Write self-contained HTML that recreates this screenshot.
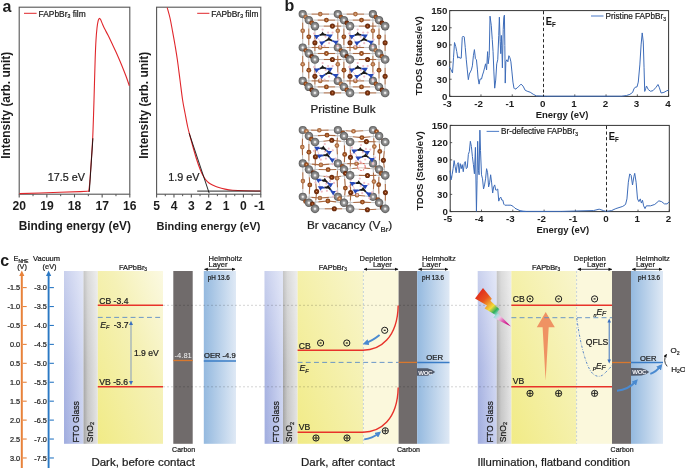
<!DOCTYPE html>
<html><head><meta charset="utf-8"><style>
html,body{margin:0;padding:0;background:#fff;}
body{width:685px;height:468px;overflow:hidden;}
svg{display:block;font-family:"Liberation Sans", sans-serif;will-change:transform;}
text[fill="#1c1c1c"]:not([font-weight="bold"]){stroke:#1c1c1c;stroke-width:0.22px;}
</style></head><body>
<svg width="685" height="468" viewBox="0 0 685 468">
<rect width="685" height="468" fill="#fff"/>
<text x="2.5" y="11.6" font-size="16" text-anchor="start" font-weight="bold" fill="#1c1c1c" >a</text>
<rect x="19.2" y="7.2" width="110.60000000000001" height="187.0" fill="none" stroke="#555" stroke-width="1.1"/>
<line x1="19.20" y1="194.20" x2="19.20" y2="197.40" stroke="#555" stroke-width="1.1" />
<text x="19.2" y="210.4" font-size="12.1" text-anchor="middle" font-weight="bold" fill="#1c1c1c" >20</text>
<line x1="33.02" y1="194.20" x2="33.02" y2="196.20" stroke="#555" stroke-width="1" />
<line x1="46.85" y1="194.20" x2="46.85" y2="197.40" stroke="#555" stroke-width="1.1" />
<text x="46.9" y="210.4" font-size="12.1" text-anchor="middle" font-weight="bold" fill="#1c1c1c" >19</text>
<line x1="60.68" y1="194.20" x2="60.68" y2="196.20" stroke="#555" stroke-width="1" />
<line x1="74.50" y1="194.20" x2="74.50" y2="197.40" stroke="#555" stroke-width="1.1" />
<text x="74.5" y="210.4" font-size="12.1" text-anchor="middle" font-weight="bold" fill="#1c1c1c" >18</text>
<line x1="88.33" y1="194.20" x2="88.33" y2="196.20" stroke="#555" stroke-width="1" />
<line x1="102.15" y1="194.20" x2="102.15" y2="197.40" stroke="#555" stroke-width="1.1" />
<text x="102.2" y="210.4" font-size="12.1" text-anchor="middle" font-weight="bold" fill="#1c1c1c" >17</text>
<line x1="115.98" y1="194.20" x2="115.98" y2="196.20" stroke="#555" stroke-width="1" />
<line x1="129.80" y1="194.20" x2="129.80" y2="197.40" stroke="#555" stroke-width="1.1" />
<text x="129.8" y="210.4" font-size="12.1" text-anchor="middle" font-weight="bold" fill="#1c1c1c" >16</text>
<polyline points="19.50,193.60 40.00,193.00 60.00,192.30 80.00,191.60 87.60,191.20" fill="none" stroke="#e0262b" stroke-width="1.1" stroke-linejoin="round" />
<path d="M87.60,191.20 C87.80,191.10 88.43,192.13 88.80,190.60 C89.17,189.07 89.40,186.77 89.80,182.00 C90.20,177.23 90.72,169.33 91.20,162.00 C91.68,154.67 92.28,146.67 92.70,138.00 C93.12,129.33 93.40,119.33 93.70,110.00 C94.00,100.67 94.25,90.67 94.50,82.00 C94.75,73.33 94.95,65.00 95.20,58.00 C95.45,51.00 95.70,45.00 96.00,40.00 C96.30,35.00 96.63,31.23 97.00,28.00 C97.37,24.77 97.80,22.20 98.20,20.60 C98.60,19.00 99.00,18.57 99.40,18.40 C99.80,18.23 100.13,18.77 100.60,19.60 C101.07,20.43 101.55,21.92 102.20,23.40 C102.85,24.88 103.50,26.47 104.50,28.50 C105.50,30.53 106.95,33.10 108.20,35.60 C109.45,38.10 110.70,40.77 112.00,43.50 C113.30,46.23 114.77,49.28 116.00,52.00 C117.23,54.72 118.23,57.05 119.40,59.80 C120.57,62.55 121.82,65.55 123.00,68.50 C124.18,71.45 125.45,74.63 126.50,77.50 C127.55,80.37 128.83,84.33 129.30,85.70" fill="none" stroke="#e0262b" stroke-width="1.1" stroke-linejoin="round" />
<line x1="89.30" y1="191.90" x2="92.90" y2="138.30" stroke="#111" stroke-width="0.9" />
<text x="47.8" y="180.8" font-size="10.8" text-anchor="start" font-weight="normal" fill="#1c1c1c" >17.5 eV</text>
<line x1="24.00" y1="13.30" x2="36.60" y2="13.30" stroke="#e0262b" stroke-width="1" />
<text x="38.6" y="16.5" font-size="8.4" fill="#1c1c1c">FAPbBr<tspan font-size="5.2" dy="1.8">3</tspan><tspan dy="-1.8"> film</tspan></text>
<text transform="translate(10.4,105.3) rotate(-90)" font-size="11.9" font-weight="bold" text-anchor="middle" fill="#1c1c1c">Intensity (arb. unit)</text>
<text x="74.8" y="230.4" font-size="11.9" text-anchor="middle" font-weight="bold" fill="#1c1c1c" >Binding energy (eV)</text>
<rect x="156.6" y="7.2" width="104.20000000000002" height="187.0" fill="none" stroke="#555" stroke-width="1.1"/>
<line x1="156.60" y1="194.20" x2="156.60" y2="197.40" stroke="#555" stroke-width="1.1" />
<text x="156.6" y="210.4" font-size="12.1" text-anchor="middle" font-weight="bold" fill="#1c1c1c" >5</text>
<line x1="165.28" y1="194.20" x2="165.28" y2="196.20" stroke="#555" stroke-width="1" />
<line x1="173.97" y1="194.20" x2="173.97" y2="197.40" stroke="#555" stroke-width="1.1" />
<text x="174.0" y="210.4" font-size="12.1" text-anchor="middle" font-weight="bold" fill="#1c1c1c" >4</text>
<line x1="182.65" y1="194.20" x2="182.65" y2="196.20" stroke="#555" stroke-width="1" />
<line x1="191.33" y1="194.20" x2="191.33" y2="197.40" stroke="#555" stroke-width="1.1" />
<text x="191.3" y="210.4" font-size="12.1" text-anchor="middle" font-weight="bold" fill="#1c1c1c" >3</text>
<line x1="200.02" y1="194.20" x2="200.02" y2="196.20" stroke="#555" stroke-width="1" />
<line x1="208.70" y1="194.20" x2="208.70" y2="197.40" stroke="#555" stroke-width="1.1" />
<text x="208.7" y="210.4" font-size="12.1" text-anchor="middle" font-weight="bold" fill="#1c1c1c" >2</text>
<line x1="217.38" y1="194.20" x2="217.38" y2="196.20" stroke="#555" stroke-width="1" />
<line x1="226.07" y1="194.20" x2="226.07" y2="197.40" stroke="#555" stroke-width="1.1" />
<text x="226.1" y="210.4" font-size="12.1" text-anchor="middle" font-weight="bold" fill="#1c1c1c" >1</text>
<line x1="234.75" y1="194.20" x2="234.75" y2="196.20" stroke="#555" stroke-width="1" />
<line x1="243.43" y1="194.20" x2="243.43" y2="197.40" stroke="#555" stroke-width="1.1" />
<text x="243.4" y="210.4" font-size="12.1" text-anchor="middle" font-weight="bold" fill="#1c1c1c" >0</text>
<line x1="252.12" y1="194.20" x2="252.12" y2="196.20" stroke="#555" stroke-width="1" />
<line x1="260.80" y1="194.20" x2="260.80" y2="197.40" stroke="#555" stroke-width="1.1" />
<text x="259.3" y="210.4" font-size="12.1" text-anchor="middle" font-weight="bold" fill="#1c1c1c" >-1</text>
<path d="M167.20,7.60 C167.67,9.33 169.15,14.27 170.00,18.00 C170.85,21.73 171.47,25.50 172.30,30.00 C173.13,34.50 174.15,40.00 175.00,45.00 C175.85,50.00 176.57,54.17 177.40,60.00 C178.23,65.83 179.13,73.33 180.00,80.00 C180.87,86.67 181.77,94.50 182.60,100.00 C183.43,105.50 184.18,108.67 185.00,113.00 C185.82,117.33 186.67,122.17 187.50,126.00 C188.33,129.83 189.08,132.50 190.00,136.00 C190.92,139.50 191.92,143.17 193.00,147.00 C194.08,150.83 195.33,155.33 196.50,159.00 C197.67,162.67 198.92,166.23 200.00,169.00 C201.08,171.77 202.00,173.73 203.00,175.60 C204.00,177.47 205.00,178.97 206.00,180.20 C207.00,181.43 207.83,182.17 209.00,183.00 C210.17,183.83 211.50,184.48 213.00,185.20 C214.50,185.92 216.00,186.65 218.00,187.30 C220.00,187.95 222.57,188.62 225.00,189.10 C227.43,189.58 229.27,189.92 232.60,190.20 C235.93,190.48 240.35,190.67 245.00,190.80 C249.65,190.93 257.92,190.97 260.50,191.00" fill="none" stroke="#e0262b" stroke-width="1.1" stroke-linejoin="round" />
<line x1="189.20" y1="133.30" x2="209.20" y2="193.20" stroke="#111" stroke-width="0.9" />
<line x1="197.20" y1="191.10" x2="260.50" y2="191.10" stroke="#111" stroke-width="0.9" />
<text x="168.3" y="181.2" font-size="10.8" text-anchor="start" font-weight="normal" fill="#1c1c1c" >1.9 eV</text>
<line x1="197.20" y1="13.30" x2="209.40" y2="13.30" stroke="#e0262b" stroke-width="1" />
<text x="211.3" y="16.5" font-size="8.4" fill="#1c1c1c">FAPbBr<tspan font-size="5.2" dy="1.8">3</tspan><tspan dy="-1.8"> film</tspan></text>
<text transform="translate(147.9,105.3) rotate(-90)" font-size="11.9" font-weight="bold" text-anchor="middle" fill="#1c1c1c">Intensity (arb. unit)</text>
<text x="208.5" y="230.4" font-size="11.0" text-anchor="middle" font-weight="bold" fill="#1c1c1c" >Binding energy (eV)</text>
<defs>
<radialGradient id="gpb" cx="0.5" cy="0.5" r="0.5"><stop offset="0" stop-color="#ffffff"/><stop offset="0.16" stop-color="#e6e6e6"/><stop offset="0.38" stop-color="#9c9c9c"/><stop offset="0.72" stop-color="#7a7a7a"/><stop offset="1" stop-color="#575757"/></radialGradient>
<radialGradient id="gbr0" cx="0.5" cy="0.5" r="0.5"><stop offset="0" stop-color="#f8d4b0"/><stop offset="0.3" stop-color="#c88a5c"/><stop offset="1" stop-color="#9a5a30"/></radialGradient><radialGradient id="gbr1" cx="0.5" cy="0.5" r="0.5"><stop offset="0" stop-color="#f4c090"/><stop offset="0.3" stop-color="#b0622c"/><stop offset="1" stop-color="#7c3812"/></radialGradient><radialGradient id="gbr2" cx="0.5" cy="0.5" r="0.5"><stop offset="0" stop-color="#e8a070"/><stop offset="0.3" stop-color="#8a3c14"/><stop offset="1" stop-color="#5e2408"/></radialGradient>
</defs>
<text x="284.6" y="11.4" font-size="16" text-anchor="start" font-weight="bold" fill="#1c1c1c" >b</text>
<line x1="302.7" y1="14.1" x2="311.5" y2="14.1" stroke="#c4c4c4" stroke-width="1.1"/>
<line x1="311.5" y1="14.1" x2="320.2" y2="14.1" stroke="#a86a44" stroke-width="1.1"/>
<line x1="337.8" y1="14.1" x2="329.0" y2="14.1" stroke="#c4c4c4" stroke-width="1.1"/>
<line x1="329.0" y1="14.1" x2="320.2" y2="14.1" stroke="#a86a44" stroke-width="1.1"/>
<line x1="302.7" y1="14.1" x2="302.7" y2="22.4" stroke="#c4c4c4" stroke-width="1.1"/>
<line x1="302.7" y1="22.4" x2="302.7" y2="30.8" stroke="#a86a44" stroke-width="1.1"/>
<line x1="302.7" y1="47.5" x2="302.7" y2="39.1" stroke="#c4c4c4" stroke-width="1.1"/>
<line x1="302.7" y1="39.1" x2="302.7" y2="30.8" stroke="#a86a44" stroke-width="1.1"/>
<line x1="302.7" y1="14.1" x2="304.2" y2="15.6" stroke="#c4c4c4" stroke-width="1.1"/>
<line x1="304.2" y1="15.6" x2="305.8" y2="17.1" stroke="#a86a44" stroke-width="1.1"/>
<line x1="308.8" y1="20.1" x2="307.3" y2="18.6" stroke="#c4c4c4" stroke-width="1.1"/>
<line x1="307.3" y1="18.6" x2="305.8" y2="17.1" stroke="#a86a44" stroke-width="1.1"/>
<line x1="337.8" y1="14.1" x2="346.6" y2="14.1" stroke="#c4c4c4" stroke-width="1.1"/>
<line x1="346.6" y1="14.1" x2="355.4" y2="14.1" stroke="#a86a44" stroke-width="1.1"/>
<line x1="372.9" y1="14.1" x2="364.1" y2="14.1" stroke="#c4c4c4" stroke-width="1.1"/>
<line x1="364.1" y1="14.1" x2="355.4" y2="14.1" stroke="#a86a44" stroke-width="1.1"/>
<line x1="337.8" y1="14.1" x2="337.8" y2="22.4" stroke="#c4c4c4" stroke-width="1.1"/>
<line x1="337.8" y1="22.4" x2="337.8" y2="30.8" stroke="#a86a44" stroke-width="1.1"/>
<line x1="337.8" y1="47.5" x2="337.8" y2="39.1" stroke="#c4c4c4" stroke-width="1.1"/>
<line x1="337.8" y1="39.1" x2="337.8" y2="30.8" stroke="#a86a44" stroke-width="1.1"/>
<line x1="337.8" y1="14.1" x2="339.3" y2="15.6" stroke="#c4c4c4" stroke-width="1.1"/>
<line x1="339.3" y1="15.6" x2="340.9" y2="17.1" stroke="#a86a44" stroke-width="1.1"/>
<line x1="343.9" y1="20.1" x2="342.4" y2="18.6" stroke="#c4c4c4" stroke-width="1.1"/>
<line x1="342.4" y1="18.6" x2="340.9" y2="17.1" stroke="#a86a44" stroke-width="1.1"/>
<line x1="372.9" y1="14.1" x2="372.9" y2="22.4" stroke="#c4c4c4" stroke-width="1.1"/>
<line x1="372.9" y1="22.4" x2="372.9" y2="30.8" stroke="#a86a44" stroke-width="1.1"/>
<line x1="372.9" y1="47.5" x2="372.9" y2="39.1" stroke="#c4c4c4" stroke-width="1.1"/>
<line x1="372.9" y1="39.1" x2="372.9" y2="30.8" stroke="#a86a44" stroke-width="1.1"/>
<line x1="372.9" y1="14.1" x2="374.4" y2="15.6" stroke="#c4c4c4" stroke-width="1.1"/>
<line x1="374.4" y1="15.6" x2="375.9" y2="17.1" stroke="#a86a44" stroke-width="1.1"/>
<line x1="379.0" y1="20.1" x2="377.5" y2="18.6" stroke="#c4c4c4" stroke-width="1.1"/>
<line x1="377.5" y1="18.6" x2="375.9" y2="17.1" stroke="#a86a44" stroke-width="1.1"/>
<line x1="302.7" y1="47.5" x2="311.5" y2="47.5" stroke="#c4c4c4" stroke-width="1.1"/>
<line x1="311.5" y1="47.5" x2="320.2" y2="47.5" stroke="#a86a44" stroke-width="1.1"/>
<line x1="337.8" y1="47.5" x2="329.0" y2="47.5" stroke="#c4c4c4" stroke-width="1.1"/>
<line x1="329.0" y1="47.5" x2="320.2" y2="47.5" stroke="#a86a44" stroke-width="1.1"/>
<line x1="302.7" y1="47.5" x2="302.7" y2="55.8" stroke="#c4c4c4" stroke-width="1.1"/>
<line x1="302.7" y1="55.8" x2="302.7" y2="64.2" stroke="#a86a44" stroke-width="1.1"/>
<line x1="302.7" y1="80.9" x2="302.7" y2="72.5" stroke="#c4c4c4" stroke-width="1.1"/>
<line x1="302.7" y1="72.5" x2="302.7" y2="64.2" stroke="#a86a44" stroke-width="1.1"/>
<line x1="302.7" y1="47.5" x2="304.2" y2="49.0" stroke="#c4c4c4" stroke-width="1.1"/>
<line x1="304.2" y1="49.0" x2="305.8" y2="50.5" stroke="#a86a44" stroke-width="1.1"/>
<line x1="308.8" y1="53.5" x2="307.3" y2="52.0" stroke="#c4c4c4" stroke-width="1.1"/>
<line x1="307.3" y1="52.0" x2="305.8" y2="50.5" stroke="#a86a44" stroke-width="1.1"/>
<line x1="337.8" y1="47.5" x2="346.6" y2="47.5" stroke="#c4c4c4" stroke-width="1.1"/>
<line x1="346.6" y1="47.5" x2="355.4" y2="47.5" stroke="#a86a44" stroke-width="1.1"/>
<line x1="372.9" y1="47.5" x2="364.1" y2="47.5" stroke="#c4c4c4" stroke-width="1.1"/>
<line x1="364.1" y1="47.5" x2="355.4" y2="47.5" stroke="#a86a44" stroke-width="1.1"/>
<line x1="337.8" y1="47.5" x2="337.8" y2="55.8" stroke="#c4c4c4" stroke-width="1.1"/>
<line x1="337.8" y1="55.8" x2="337.8" y2="64.2" stroke="#a86a44" stroke-width="1.1"/>
<line x1="337.8" y1="80.9" x2="337.8" y2="72.5" stroke="#c4c4c4" stroke-width="1.1"/>
<line x1="337.8" y1="72.5" x2="337.8" y2="64.2" stroke="#a86a44" stroke-width="1.1"/>
<line x1="337.8" y1="47.5" x2="339.3" y2="49.0" stroke="#c4c4c4" stroke-width="1.1"/>
<line x1="339.3" y1="49.0" x2="340.9" y2="50.5" stroke="#a86a44" stroke-width="1.1"/>
<line x1="343.9" y1="53.5" x2="342.4" y2="52.0" stroke="#c4c4c4" stroke-width="1.1"/>
<line x1="342.4" y1="52.0" x2="340.9" y2="50.5" stroke="#a86a44" stroke-width="1.1"/>
<line x1="372.9" y1="47.5" x2="372.9" y2="55.8" stroke="#c4c4c4" stroke-width="1.1"/>
<line x1="372.9" y1="55.8" x2="372.9" y2="64.2" stroke="#a86a44" stroke-width="1.1"/>
<line x1="372.9" y1="80.9" x2="372.9" y2="72.5" stroke="#c4c4c4" stroke-width="1.1"/>
<line x1="372.9" y1="72.5" x2="372.9" y2="64.2" stroke="#a86a44" stroke-width="1.1"/>
<line x1="372.9" y1="47.5" x2="374.4" y2="49.0" stroke="#c4c4c4" stroke-width="1.1"/>
<line x1="374.4" y1="49.0" x2="375.9" y2="50.5" stroke="#a86a44" stroke-width="1.1"/>
<line x1="379.0" y1="53.5" x2="377.5" y2="52.0" stroke="#c4c4c4" stroke-width="1.1"/>
<line x1="377.5" y1="52.0" x2="375.9" y2="50.5" stroke="#a86a44" stroke-width="1.1"/>
<line x1="302.7" y1="80.9" x2="311.5" y2="80.9" stroke="#c4c4c4" stroke-width="1.1"/>
<line x1="311.5" y1="80.9" x2="320.2" y2="80.9" stroke="#a86a44" stroke-width="1.1"/>
<line x1="337.8" y1="80.9" x2="329.0" y2="80.9" stroke="#c4c4c4" stroke-width="1.1"/>
<line x1="329.0" y1="80.9" x2="320.2" y2="80.9" stroke="#a86a44" stroke-width="1.1"/>
<line x1="302.7" y1="80.9" x2="304.2" y2="82.4" stroke="#c4c4c4" stroke-width="1.1"/>
<line x1="304.2" y1="82.4" x2="305.8" y2="83.9" stroke="#a86a44" stroke-width="1.1"/>
<line x1="308.8" y1="86.9" x2="307.3" y2="85.4" stroke="#c4c4c4" stroke-width="1.1"/>
<line x1="307.3" y1="85.4" x2="305.8" y2="83.9" stroke="#a86a44" stroke-width="1.1"/>
<line x1="337.8" y1="80.9" x2="346.6" y2="80.9" stroke="#c4c4c4" stroke-width="1.1"/>
<line x1="346.6" y1="80.9" x2="355.4" y2="80.9" stroke="#a86a44" stroke-width="1.1"/>
<line x1="372.9" y1="80.9" x2="364.1" y2="80.9" stroke="#c4c4c4" stroke-width="1.1"/>
<line x1="364.1" y1="80.9" x2="355.4" y2="80.9" stroke="#a86a44" stroke-width="1.1"/>
<line x1="337.8" y1="80.9" x2="339.3" y2="82.4" stroke="#c4c4c4" stroke-width="1.1"/>
<line x1="339.3" y1="82.4" x2="340.9" y2="83.9" stroke="#a86a44" stroke-width="1.1"/>
<line x1="343.9" y1="86.9" x2="342.4" y2="85.4" stroke="#c4c4c4" stroke-width="1.1"/>
<line x1="342.4" y1="85.4" x2="340.9" y2="83.9" stroke="#a86a44" stroke-width="1.1"/>
<line x1="372.9" y1="80.9" x2="374.4" y2="82.4" stroke="#c4c4c4" stroke-width="1.1"/>
<line x1="374.4" y1="82.4" x2="375.9" y2="83.9" stroke="#a86a44" stroke-width="1.1"/>
<line x1="379.0" y1="86.9" x2="377.5" y2="85.4" stroke="#c4c4c4" stroke-width="1.1"/>
<line x1="377.5" y1="85.4" x2="375.9" y2="83.9" stroke="#a86a44" stroke-width="1.1"/>
<line x1="308.8" y1="20.1" x2="317.6" y2="20.1" stroke="#c4c4c4" stroke-width="1.1"/>
<line x1="317.6" y1="20.1" x2="326.4" y2="20.1" stroke="#a86a44" stroke-width="1.1"/>
<line x1="343.9" y1="20.1" x2="335.1" y2="20.1" stroke="#c4c4c4" stroke-width="1.1"/>
<line x1="335.1" y1="20.1" x2="326.4" y2="20.1" stroke="#a86a44" stroke-width="1.1"/>
<line x1="308.8" y1="20.1" x2="308.8" y2="28.4" stroke="#c4c4c4" stroke-width="1.1"/>
<line x1="308.8" y1="28.4" x2="308.8" y2="36.8" stroke="#a86a44" stroke-width="1.1"/>
<line x1="308.8" y1="53.5" x2="308.8" y2="45.1" stroke="#c4c4c4" stroke-width="1.1"/>
<line x1="308.8" y1="45.1" x2="308.8" y2="36.8" stroke="#a86a44" stroke-width="1.1"/>
<line x1="308.8" y1="20.1" x2="310.3" y2="21.6" stroke="#c4c4c4" stroke-width="1.1"/>
<line x1="310.3" y1="21.6" x2="311.8" y2="23.1" stroke="#a86a44" stroke-width="1.1"/>
<line x1="314.9" y1="26.1" x2="313.4" y2="24.6" stroke="#c4c4c4" stroke-width="1.1"/>
<line x1="313.4" y1="24.6" x2="311.8" y2="23.1" stroke="#a86a44" stroke-width="1.1"/>
<line x1="343.9" y1="20.1" x2="352.7" y2="20.1" stroke="#c4c4c4" stroke-width="1.1"/>
<line x1="352.7" y1="20.1" x2="361.5" y2="20.1" stroke="#a86a44" stroke-width="1.1"/>
<line x1="379.0" y1="20.1" x2="370.2" y2="20.1" stroke="#c4c4c4" stroke-width="1.1"/>
<line x1="370.2" y1="20.1" x2="361.5" y2="20.1" stroke="#a86a44" stroke-width="1.1"/>
<line x1="343.9" y1="20.1" x2="343.9" y2="28.4" stroke="#c4c4c4" stroke-width="1.1"/>
<line x1="343.9" y1="28.4" x2="343.9" y2="36.8" stroke="#a86a44" stroke-width="1.1"/>
<line x1="343.9" y1="53.5" x2="343.9" y2="45.1" stroke="#c4c4c4" stroke-width="1.1"/>
<line x1="343.9" y1="45.1" x2="343.9" y2="36.8" stroke="#a86a44" stroke-width="1.1"/>
<line x1="343.9" y1="20.1" x2="345.4" y2="21.6" stroke="#c4c4c4" stroke-width="1.1"/>
<line x1="345.4" y1="21.6" x2="346.9" y2="23.1" stroke="#a86a44" stroke-width="1.1"/>
<line x1="350.0" y1="26.1" x2="348.5" y2="24.6" stroke="#c4c4c4" stroke-width="1.1"/>
<line x1="348.5" y1="24.6" x2="346.9" y2="23.1" stroke="#a86a44" stroke-width="1.1"/>
<line x1="379.0" y1="20.1" x2="379.0" y2="28.4" stroke="#c4c4c4" stroke-width="1.1"/>
<line x1="379.0" y1="28.4" x2="379.0" y2="36.8" stroke="#a86a44" stroke-width="1.1"/>
<line x1="379.0" y1="53.5" x2="379.0" y2="45.1" stroke="#c4c4c4" stroke-width="1.1"/>
<line x1="379.0" y1="45.1" x2="379.0" y2="36.8" stroke="#a86a44" stroke-width="1.1"/>
<line x1="379.0" y1="20.1" x2="380.5" y2="21.6" stroke="#c4c4c4" stroke-width="1.1"/>
<line x1="380.5" y1="21.6" x2="382.0" y2="23.1" stroke="#a86a44" stroke-width="1.1"/>
<line x1="385.1" y1="26.1" x2="383.6" y2="24.6" stroke="#c4c4c4" stroke-width="1.1"/>
<line x1="383.6" y1="24.6" x2="382.0" y2="23.1" stroke="#a86a44" stroke-width="1.1"/>
<line x1="308.8" y1="53.5" x2="317.6" y2="53.5" stroke="#c4c4c4" stroke-width="1.1"/>
<line x1="317.6" y1="53.5" x2="326.4" y2="53.5" stroke="#a86a44" stroke-width="1.1"/>
<line x1="343.9" y1="53.5" x2="335.1" y2="53.5" stroke="#c4c4c4" stroke-width="1.1"/>
<line x1="335.1" y1="53.5" x2="326.4" y2="53.5" stroke="#a86a44" stroke-width="1.1"/>
<line x1="308.8" y1="53.5" x2="308.8" y2="61.8" stroke="#c4c4c4" stroke-width="1.1"/>
<line x1="308.8" y1="61.8" x2="308.8" y2="70.2" stroke="#a86a44" stroke-width="1.1"/>
<line x1="308.8" y1="86.9" x2="308.8" y2="78.5" stroke="#c4c4c4" stroke-width="1.1"/>
<line x1="308.8" y1="78.5" x2="308.8" y2="70.2" stroke="#a86a44" stroke-width="1.1"/>
<line x1="308.8" y1="53.5" x2="310.3" y2="55.0" stroke="#c4c4c4" stroke-width="1.1"/>
<line x1="310.3" y1="55.0" x2="311.8" y2="56.5" stroke="#a86a44" stroke-width="1.1"/>
<line x1="314.9" y1="59.5" x2="313.4" y2="58.0" stroke="#c4c4c4" stroke-width="1.1"/>
<line x1="313.4" y1="58.0" x2="311.8" y2="56.5" stroke="#a86a44" stroke-width="1.1"/>
<line x1="343.9" y1="53.5" x2="352.7" y2="53.5" stroke="#c4c4c4" stroke-width="1.1"/>
<line x1="352.7" y1="53.5" x2="361.5" y2="53.5" stroke="#a86a44" stroke-width="1.1"/>
<line x1="379.0" y1="53.5" x2="370.2" y2="53.5" stroke="#c4c4c4" stroke-width="1.1"/>
<line x1="370.2" y1="53.5" x2="361.5" y2="53.5" stroke="#a86a44" stroke-width="1.1"/>
<line x1="343.9" y1="53.5" x2="343.9" y2="61.8" stroke="#c4c4c4" stroke-width="1.1"/>
<line x1="343.9" y1="61.8" x2="343.9" y2="70.2" stroke="#a86a44" stroke-width="1.1"/>
<line x1="343.9" y1="86.9" x2="343.9" y2="78.5" stroke="#c4c4c4" stroke-width="1.1"/>
<line x1="343.9" y1="78.5" x2="343.9" y2="70.2" stroke="#a86a44" stroke-width="1.1"/>
<line x1="343.9" y1="53.5" x2="345.4" y2="55.0" stroke="#c4c4c4" stroke-width="1.1"/>
<line x1="345.4" y1="55.0" x2="346.9" y2="56.5" stroke="#a86a44" stroke-width="1.1"/>
<line x1="350.0" y1="59.5" x2="348.5" y2="58.0" stroke="#c4c4c4" stroke-width="1.1"/>
<line x1="348.5" y1="58.0" x2="346.9" y2="56.5" stroke="#a86a44" stroke-width="1.1"/>
<line x1="379.0" y1="53.5" x2="379.0" y2="61.8" stroke="#c4c4c4" stroke-width="1.1"/>
<line x1="379.0" y1="61.8" x2="379.0" y2="70.2" stroke="#a86a44" stroke-width="1.1"/>
<line x1="379.0" y1="86.9" x2="379.0" y2="78.5" stroke="#c4c4c4" stroke-width="1.1"/>
<line x1="379.0" y1="78.5" x2="379.0" y2="70.2" stroke="#a86a44" stroke-width="1.1"/>
<line x1="379.0" y1="53.5" x2="380.5" y2="55.0" stroke="#c4c4c4" stroke-width="1.1"/>
<line x1="380.5" y1="55.0" x2="382.0" y2="56.5" stroke="#a86a44" stroke-width="1.1"/>
<line x1="385.1" y1="59.5" x2="383.6" y2="58.0" stroke="#c4c4c4" stroke-width="1.1"/>
<line x1="383.6" y1="58.0" x2="382.0" y2="56.5" stroke="#a86a44" stroke-width="1.1"/>
<line x1="308.8" y1="86.9" x2="317.6" y2="86.9" stroke="#c4c4c4" stroke-width="1.1"/>
<line x1="317.6" y1="86.9" x2="326.4" y2="86.9" stroke="#a86a44" stroke-width="1.1"/>
<line x1="343.9" y1="86.9" x2="335.1" y2="86.9" stroke="#c4c4c4" stroke-width="1.1"/>
<line x1="335.1" y1="86.9" x2="326.4" y2="86.9" stroke="#a86a44" stroke-width="1.1"/>
<line x1="308.8" y1="86.9" x2="310.3" y2="88.4" stroke="#c4c4c4" stroke-width="1.1"/>
<line x1="310.3" y1="88.4" x2="311.8" y2="89.9" stroke="#a86a44" stroke-width="1.1"/>
<line x1="314.9" y1="92.9" x2="313.4" y2="91.4" stroke="#c4c4c4" stroke-width="1.1"/>
<line x1="313.4" y1="91.4" x2="311.8" y2="89.9" stroke="#a86a44" stroke-width="1.1"/>
<line x1="343.9" y1="86.9" x2="352.7" y2="86.9" stroke="#c4c4c4" stroke-width="1.1"/>
<line x1="352.7" y1="86.9" x2="361.5" y2="86.9" stroke="#a86a44" stroke-width="1.1"/>
<line x1="379.0" y1="86.9" x2="370.2" y2="86.9" stroke="#c4c4c4" stroke-width="1.1"/>
<line x1="370.2" y1="86.9" x2="361.5" y2="86.9" stroke="#a86a44" stroke-width="1.1"/>
<line x1="343.9" y1="86.9" x2="345.4" y2="88.4" stroke="#c4c4c4" stroke-width="1.1"/>
<line x1="345.4" y1="88.4" x2="346.9" y2="89.9" stroke="#a86a44" stroke-width="1.1"/>
<line x1="350.0" y1="92.9" x2="348.5" y2="91.4" stroke="#c4c4c4" stroke-width="1.1"/>
<line x1="348.5" y1="91.4" x2="346.9" y2="89.9" stroke="#a86a44" stroke-width="1.1"/>
<line x1="379.0" y1="86.9" x2="380.5" y2="88.4" stroke="#c4c4c4" stroke-width="1.1"/>
<line x1="380.5" y1="88.4" x2="382.0" y2="89.9" stroke="#a86a44" stroke-width="1.1"/>
<line x1="385.1" y1="92.9" x2="383.6" y2="91.4" stroke="#c4c4c4" stroke-width="1.1"/>
<line x1="383.6" y1="91.4" x2="382.0" y2="89.9" stroke="#a86a44" stroke-width="1.1"/>
<line x1="314.9" y1="26.1" x2="323.7" y2="26.1" stroke="#c4c4c4" stroke-width="1.1"/>
<line x1="323.7" y1="26.1" x2="332.4" y2="26.1" stroke="#a86a44" stroke-width="1.1"/>
<line x1="350.0" y1="26.1" x2="341.2" y2="26.1" stroke="#c4c4c4" stroke-width="1.1"/>
<line x1="341.2" y1="26.1" x2="332.4" y2="26.1" stroke="#a86a44" stroke-width="1.1"/>
<line x1="314.9" y1="26.1" x2="314.9" y2="34.5" stroke="#c4c4c4" stroke-width="1.1"/>
<line x1="314.9" y1="34.5" x2="314.9" y2="42.8" stroke="#a86a44" stroke-width="1.1"/>
<line x1="314.9" y1="59.5" x2="314.9" y2="51.1" stroke="#c4c4c4" stroke-width="1.1"/>
<line x1="314.9" y1="51.1" x2="314.9" y2="42.8" stroke="#a86a44" stroke-width="1.1"/>
<line x1="350.0" y1="26.1" x2="358.8" y2="26.1" stroke="#c4c4c4" stroke-width="1.1"/>
<line x1="358.8" y1="26.1" x2="367.6" y2="26.1" stroke="#a86a44" stroke-width="1.1"/>
<line x1="385.1" y1="26.1" x2="376.3" y2="26.1" stroke="#c4c4c4" stroke-width="1.1"/>
<line x1="376.3" y1="26.1" x2="367.6" y2="26.1" stroke="#a86a44" stroke-width="1.1"/>
<line x1="350.0" y1="26.1" x2="350.0" y2="34.5" stroke="#c4c4c4" stroke-width="1.1"/>
<line x1="350.0" y1="34.5" x2="350.0" y2="42.8" stroke="#a86a44" stroke-width="1.1"/>
<line x1="350.0" y1="59.5" x2="350.0" y2="51.1" stroke="#c4c4c4" stroke-width="1.1"/>
<line x1="350.0" y1="51.1" x2="350.0" y2="42.8" stroke="#a86a44" stroke-width="1.1"/>
<line x1="385.1" y1="26.1" x2="385.1" y2="34.5" stroke="#c4c4c4" stroke-width="1.1"/>
<line x1="385.1" y1="34.5" x2="385.1" y2="42.8" stroke="#a86a44" stroke-width="1.1"/>
<line x1="385.1" y1="59.5" x2="385.1" y2="51.1" stroke="#c4c4c4" stroke-width="1.1"/>
<line x1="385.1" y1="51.1" x2="385.1" y2="42.8" stroke="#a86a44" stroke-width="1.1"/>
<line x1="314.9" y1="59.5" x2="323.7" y2="59.5" stroke="#c4c4c4" stroke-width="1.1"/>
<line x1="323.7" y1="59.5" x2="332.4" y2="59.5" stroke="#a86a44" stroke-width="1.1"/>
<line x1="350.0" y1="59.5" x2="341.2" y2="59.5" stroke="#c4c4c4" stroke-width="1.1"/>
<line x1="341.2" y1="59.5" x2="332.4" y2="59.5" stroke="#a86a44" stroke-width="1.1"/>
<line x1="314.9" y1="59.5" x2="314.9" y2="67.8" stroke="#c4c4c4" stroke-width="1.1"/>
<line x1="314.9" y1="67.8" x2="314.9" y2="76.2" stroke="#a86a44" stroke-width="1.1"/>
<line x1="314.9" y1="92.9" x2="314.9" y2="84.5" stroke="#c4c4c4" stroke-width="1.1"/>
<line x1="314.9" y1="84.5" x2="314.9" y2="76.2" stroke="#a86a44" stroke-width="1.1"/>
<line x1="350.0" y1="59.5" x2="358.8" y2="59.5" stroke="#c4c4c4" stroke-width="1.1"/>
<line x1="358.8" y1="59.5" x2="367.6" y2="59.5" stroke="#a86a44" stroke-width="1.1"/>
<line x1="385.1" y1="59.5" x2="376.3" y2="59.5" stroke="#c4c4c4" stroke-width="1.1"/>
<line x1="376.3" y1="59.5" x2="367.6" y2="59.5" stroke="#a86a44" stroke-width="1.1"/>
<line x1="350.0" y1="59.5" x2="350.0" y2="67.8" stroke="#c4c4c4" stroke-width="1.1"/>
<line x1="350.0" y1="67.8" x2="350.0" y2="76.2" stroke="#a86a44" stroke-width="1.1"/>
<line x1="350.0" y1="92.9" x2="350.0" y2="84.5" stroke="#c4c4c4" stroke-width="1.1"/>
<line x1="350.0" y1="84.5" x2="350.0" y2="76.2" stroke="#a86a44" stroke-width="1.1"/>
<line x1="385.1" y1="59.5" x2="385.1" y2="67.8" stroke="#c4c4c4" stroke-width="1.1"/>
<line x1="385.1" y1="67.8" x2="385.1" y2="76.2" stroke="#a86a44" stroke-width="1.1"/>
<line x1="385.1" y1="92.9" x2="385.1" y2="84.5" stroke="#c4c4c4" stroke-width="1.1"/>
<line x1="385.1" y1="84.5" x2="385.1" y2="76.2" stroke="#a86a44" stroke-width="1.1"/>
<line x1="314.9" y1="92.9" x2="323.7" y2="92.9" stroke="#c4c4c4" stroke-width="1.1"/>
<line x1="323.7" y1="92.9" x2="332.4" y2="92.9" stroke="#a86a44" stroke-width="1.1"/>
<line x1="350.0" y1="92.9" x2="341.2" y2="92.9" stroke="#c4c4c4" stroke-width="1.1"/>
<line x1="341.2" y1="92.9" x2="332.4" y2="92.9" stroke="#a86a44" stroke-width="1.1"/>
<line x1="350.0" y1="92.9" x2="358.8" y2="92.9" stroke="#c4c4c4" stroke-width="1.1"/>
<line x1="358.8" y1="92.9" x2="367.6" y2="92.9" stroke="#a86a44" stroke-width="1.1"/>
<line x1="385.1" y1="92.9" x2="376.3" y2="92.9" stroke="#c4c4c4" stroke-width="1.1"/>
<line x1="376.3" y1="92.9" x2="367.6" y2="92.9" stroke="#a86a44" stroke-width="1.1"/>
<circle cx="302.7" cy="14.1" r="4.10" fill="url(#gpb)"/>
<circle cx="320.2" cy="14.1" r="2.30" fill="url(#gbr0)"/>
<circle cx="337.8" cy="14.1" r="4.10" fill="url(#gpb)"/>
<circle cx="355.4" cy="14.1" r="2.30" fill="url(#gbr0)"/>
<circle cx="372.9" cy="14.1" r="4.10" fill="url(#gpb)"/>
<circle cx="302.7" cy="30.8" r="2.30" fill="url(#gbr0)"/>
<circle cx="337.8" cy="30.8" r="2.30" fill="url(#gbr0)"/>
<circle cx="372.9" cy="30.8" r="2.30" fill="url(#gbr0)"/>
<circle cx="302.7" cy="47.5" r="4.10" fill="url(#gpb)"/>
<circle cx="320.2" cy="47.5" r="2.30" fill="url(#gbr0)"/>
<circle cx="337.8" cy="47.5" r="4.10" fill="url(#gpb)"/>
<circle cx="355.4" cy="47.5" r="2.30" fill="url(#gbr0)"/>
<circle cx="372.9" cy="47.5" r="4.10" fill="url(#gpb)"/>
<circle cx="302.7" cy="64.2" r="2.30" fill="url(#gbr0)"/>
<circle cx="337.8" cy="64.2" r="2.30" fill="url(#gbr0)"/>
<circle cx="372.9" cy="64.2" r="2.30" fill="url(#gbr0)"/>
<circle cx="302.7" cy="80.9" r="4.10" fill="url(#gpb)"/>
<circle cx="320.2" cy="80.9" r="2.30" fill="url(#gbr0)"/>
<circle cx="337.8" cy="80.9" r="4.10" fill="url(#gpb)"/>
<circle cx="355.4" cy="80.9" r="2.30" fill="url(#gbr0)"/>
<circle cx="372.9" cy="80.9" r="4.10" fill="url(#gpb)"/>
<circle cx="305.8" cy="17.1" r="2.36" fill="url(#gbr0)"/>
<circle cx="340.9" cy="17.1" r="2.36" fill="url(#gbr1)"/>
<circle cx="375.9" cy="17.1" r="2.36" fill="url(#gbr1)"/>
<circle cx="305.8" cy="50.5" r="2.36" fill="url(#gbr1)"/>
<circle cx="340.9" cy="50.5" r="2.36" fill="url(#gbr1)"/>
<circle cx="375.9" cy="50.5" r="2.36" fill="url(#gbr0)"/>
<circle cx="305.8" cy="83.9" r="2.36" fill="url(#gbr1)"/>
<circle cx="340.9" cy="83.9" r="2.36" fill="url(#gbr0)"/>
<circle cx="375.9" cy="83.9" r="2.36" fill="url(#gbr1)"/>
<circle cx="314.1" cy="33.6" r="1.1" fill="#eebcc6"/>
<circle cx="314.6" cy="40.1" r="1.1" fill="#eebcc6"/>
<circle cx="320.1" cy="46.4" r="1.1" fill="#eebcc6"/>
<circle cx="324.6" cy="46.1" r="1.1" fill="#eebcc6"/>
<circle cx="328.1" cy="32.6" r="1.1" fill="#eebcc6"/>
<circle cx="332.6" cy="32.6" r="1.1" fill="#eebcc6"/>
<circle cx="338.6" cy="39.6" r="1.1" fill="#eebcc6"/>
<circle cx="337.6" cy="46.1" r="1.1" fill="#eebcc6"/>
<circle cx="322.6" cy="29.6" r="1.1" fill="#eebcc6"/>
<circle cx="329.1" cy="43.2" r="1.1" fill="#eebcc6"/>
<circle cx="325.6" cy="36.6" r="1.1" fill="#eebcc6"/>
<line x1="316.6" y1="36.8" x2="321.8" y2="43.2" stroke="#e8b8c4" stroke-width="0.8"/>
<line x1="330.1" y1="36.1" x2="328.8" y2="39.1" stroke="#e8b8c4" stroke-width="0.8"/>
<line x1="322.6" y1="33.9" x2="319.6" y2="35.3" stroke="#1a1a1a" stroke-width="1.6"/>
<line x1="319.6" y1="35.3" x2="316.6" y2="36.8" stroke="#2446b8" stroke-width="1.6"/>
<line x1="322.6" y1="33.9" x2="326.3" y2="35.0" stroke="#1a1a1a" stroke-width="1.6"/>
<line x1="326.3" y1="35.0" x2="330.1" y2="36.1" stroke="#2446b8" stroke-width="1.6"/>
<line x1="328.8" y1="39.1" x2="325.2" y2="41.1" stroke="#1a1a1a" stroke-width="1.6"/>
<line x1="325.2" y1="41.1" x2="321.8" y2="43.2" stroke="#2446b8" stroke-width="1.6"/>
<line x1="328.8" y1="39.1" x2="332.3" y2="40.7" stroke="#1a1a1a" stroke-width="1.6"/>
<line x1="332.3" y1="40.7" x2="335.9" y2="42.4" stroke="#2446b8" stroke-width="1.6"/>
<path d="M313.9,35.1 L319.2,35.1 L316.6,39.5 z" fill="#2446b8"/>
<path d="M319.1,41.5 L324.4,41.5 L321.8,45.9 z" fill="#2446b8"/>
<path d="M327.4,34.4 L332.8,34.4 L330.1,38.8 z" fill="#2446b8"/>
<path d="M333.2,40.7 L338.6,40.7 L335.9,45.1 z" fill="#2446b8"/>
<path d="M320.2,35.4 L324.9,35.4 L322.6,31.5 z" fill="#1a1a1a"/>
<path d="M326.4,40.6 L331.1,40.6 L328.8,36.7 z" fill="#1a1a1a"/>
<circle cx="349.2" cy="33.6" r="1.1" fill="#eebcc6"/>
<circle cx="349.7" cy="40.1" r="1.1" fill="#eebcc6"/>
<circle cx="355.2" cy="46.4" r="1.1" fill="#eebcc6"/>
<circle cx="359.7" cy="46.1" r="1.1" fill="#eebcc6"/>
<circle cx="363.2" cy="32.6" r="1.1" fill="#eebcc6"/>
<circle cx="367.7" cy="32.6" r="1.1" fill="#eebcc6"/>
<circle cx="373.7" cy="39.6" r="1.1" fill="#eebcc6"/>
<circle cx="372.7" cy="46.1" r="1.1" fill="#eebcc6"/>
<circle cx="357.7" cy="29.6" r="1.1" fill="#eebcc6"/>
<circle cx="364.2" cy="43.2" r="1.1" fill="#eebcc6"/>
<circle cx="360.7" cy="36.6" r="1.1" fill="#eebcc6"/>
<line x1="351.7" y1="36.8" x2="356.9" y2="43.2" stroke="#e8b8c4" stroke-width="0.8"/>
<line x1="365.2" y1="36.1" x2="363.9" y2="39.1" stroke="#e8b8c4" stroke-width="0.8"/>
<line x1="357.7" y1="33.9" x2="354.7" y2="35.3" stroke="#1a1a1a" stroke-width="1.6"/>
<line x1="354.7" y1="35.3" x2="351.7" y2="36.8" stroke="#2446b8" stroke-width="1.6"/>
<line x1="357.7" y1="33.9" x2="361.4" y2="35.0" stroke="#1a1a1a" stroke-width="1.6"/>
<line x1="361.4" y1="35.0" x2="365.2" y2="36.1" stroke="#2446b8" stroke-width="1.6"/>
<line x1="363.9" y1="39.1" x2="360.4" y2="41.1" stroke="#1a1a1a" stroke-width="1.6"/>
<line x1="360.4" y1="41.1" x2="356.9" y2="43.2" stroke="#2446b8" stroke-width="1.6"/>
<line x1="363.9" y1="39.1" x2="367.4" y2="40.7" stroke="#1a1a1a" stroke-width="1.6"/>
<line x1="367.4" y1="40.7" x2="371.0" y2="42.4" stroke="#2446b8" stroke-width="1.6"/>
<path d="M349.0,35.1 L354.4,35.1 L351.7,39.5 z" fill="#2446b8"/>
<path d="M354.2,41.5 L359.6,41.5 L356.9,45.9 z" fill="#2446b8"/>
<path d="M362.5,34.4 L367.9,34.4 L365.2,38.8 z" fill="#2446b8"/>
<path d="M368.3,40.7 L373.7,40.7 L371.0,45.1 z" fill="#2446b8"/>
<path d="M355.3,35.4 L360.1,35.4 L357.7,31.5 z" fill="#1a1a1a"/>
<path d="M361.5,40.6 L366.2,40.6 L363.9,36.7 z" fill="#1a1a1a"/>
<circle cx="314.1" cy="67.0" r="1.1" fill="#eebcc6"/>
<circle cx="314.6" cy="73.5" r="1.1" fill="#eebcc6"/>
<circle cx="320.1" cy="79.8" r="1.1" fill="#eebcc6"/>
<circle cx="324.6" cy="79.5" r="1.1" fill="#eebcc6"/>
<circle cx="328.1" cy="66.0" r="1.1" fill="#eebcc6"/>
<circle cx="332.6" cy="66.0" r="1.1" fill="#eebcc6"/>
<circle cx="338.6" cy="73.0" r="1.1" fill="#eebcc6"/>
<circle cx="337.6" cy="79.5" r="1.1" fill="#eebcc6"/>
<circle cx="322.6" cy="63.0" r="1.1" fill="#eebcc6"/>
<circle cx="329.1" cy="76.6" r="1.1" fill="#eebcc6"/>
<circle cx="325.6" cy="70.0" r="1.1" fill="#eebcc6"/>
<line x1="316.6" y1="70.2" x2="321.8" y2="76.6" stroke="#e8b8c4" stroke-width="0.8"/>
<line x1="330.1" y1="69.5" x2="328.8" y2="72.5" stroke="#e8b8c4" stroke-width="0.8"/>
<line x1="322.6" y1="67.3" x2="319.6" y2="68.7" stroke="#1a1a1a" stroke-width="1.6"/>
<line x1="319.6" y1="68.7" x2="316.6" y2="70.2" stroke="#2446b8" stroke-width="1.6"/>
<line x1="322.6" y1="67.3" x2="326.3" y2="68.4" stroke="#1a1a1a" stroke-width="1.6"/>
<line x1="326.3" y1="68.4" x2="330.1" y2="69.5" stroke="#2446b8" stroke-width="1.6"/>
<line x1="328.8" y1="72.5" x2="325.2" y2="74.5" stroke="#1a1a1a" stroke-width="1.6"/>
<line x1="325.2" y1="74.5" x2="321.8" y2="76.6" stroke="#2446b8" stroke-width="1.6"/>
<line x1="328.8" y1="72.5" x2="332.3" y2="74.1" stroke="#1a1a1a" stroke-width="1.6"/>
<line x1="332.3" y1="74.1" x2="335.9" y2="75.8" stroke="#2446b8" stroke-width="1.6"/>
<path d="M313.9,68.5 L319.2,68.5 L316.6,72.9 z" fill="#2446b8"/>
<path d="M319.1,74.9 L324.4,74.9 L321.8,79.3 z" fill="#2446b8"/>
<path d="M327.4,67.8 L332.8,67.8 L330.1,72.2 z" fill="#2446b8"/>
<path d="M333.2,74.1 L338.6,74.1 L335.9,78.5 z" fill="#2446b8"/>
<path d="M320.2,68.8 L324.9,68.8 L322.6,64.9 z" fill="#1a1a1a"/>
<path d="M326.4,74.0 L331.1,74.0 L328.8,70.1 z" fill="#1a1a1a"/>
<circle cx="349.2" cy="67.0" r="1.1" fill="#eebcc6"/>
<circle cx="349.7" cy="73.5" r="1.1" fill="#eebcc6"/>
<circle cx="355.2" cy="79.8" r="1.1" fill="#eebcc6"/>
<circle cx="359.7" cy="79.5" r="1.1" fill="#eebcc6"/>
<circle cx="363.2" cy="66.0" r="1.1" fill="#eebcc6"/>
<circle cx="367.7" cy="66.0" r="1.1" fill="#eebcc6"/>
<circle cx="373.7" cy="73.0" r="1.1" fill="#eebcc6"/>
<circle cx="372.7" cy="79.5" r="1.1" fill="#eebcc6"/>
<circle cx="357.7" cy="63.0" r="1.1" fill="#eebcc6"/>
<circle cx="364.2" cy="76.6" r="1.1" fill="#eebcc6"/>
<circle cx="360.7" cy="70.0" r="1.1" fill="#eebcc6"/>
<line x1="351.7" y1="70.2" x2="356.9" y2="76.6" stroke="#e8b8c4" stroke-width="0.8"/>
<line x1="365.2" y1="69.5" x2="363.9" y2="72.5" stroke="#e8b8c4" stroke-width="0.8"/>
<line x1="357.7" y1="67.3" x2="354.7" y2="68.7" stroke="#1a1a1a" stroke-width="1.6"/>
<line x1="354.7" y1="68.7" x2="351.7" y2="70.2" stroke="#2446b8" stroke-width="1.6"/>
<line x1="357.7" y1="67.3" x2="361.4" y2="68.4" stroke="#1a1a1a" stroke-width="1.6"/>
<line x1="361.4" y1="68.4" x2="365.2" y2="69.5" stroke="#2446b8" stroke-width="1.6"/>
<line x1="363.9" y1="72.5" x2="360.4" y2="74.5" stroke="#1a1a1a" stroke-width="1.6"/>
<line x1="360.4" y1="74.5" x2="356.9" y2="76.6" stroke="#2446b8" stroke-width="1.6"/>
<line x1="363.9" y1="72.5" x2="367.4" y2="74.1" stroke="#1a1a1a" stroke-width="1.6"/>
<line x1="367.4" y1="74.1" x2="371.0" y2="75.8" stroke="#2446b8" stroke-width="1.6"/>
<path d="M349.0,68.5 L354.4,68.5 L351.7,72.9 z" fill="#2446b8"/>
<path d="M354.2,74.9 L359.6,74.9 L356.9,79.3 z" fill="#2446b8"/>
<path d="M362.5,67.8 L367.9,67.8 L365.2,72.2 z" fill="#2446b8"/>
<path d="M368.3,74.1 L373.7,74.1 L371.0,78.5 z" fill="#2446b8"/>
<path d="M355.3,68.8 L360.1,68.8 L357.7,64.9 z" fill="#1a1a1a"/>
<path d="M361.5,74.0 L366.2,74.0 L363.9,70.1 z" fill="#1a1a1a"/>
<circle cx="308.8" cy="20.1" r="4.22" fill="url(#gpb)"/>
<circle cx="326.4" cy="20.1" r="2.42" fill="url(#gbr1)"/>
<circle cx="343.9" cy="20.1" r="4.22" fill="url(#gpb)"/>
<circle cx="361.5" cy="20.1" r="2.42" fill="url(#gbr1)"/>
<circle cx="379.0" cy="20.1" r="4.22" fill="url(#gpb)"/>
<circle cx="308.8" cy="36.8" r="2.42" fill="url(#gbr1)"/>
<circle cx="343.9" cy="36.8" r="2.42" fill="url(#gbr1)"/>
<circle cx="379.0" cy="36.8" r="2.42" fill="url(#gbr1)"/>
<circle cx="308.8" cy="53.5" r="4.22" fill="url(#gpb)"/>
<circle cx="326.4" cy="53.5" r="2.42" fill="url(#gbr1)"/>
<circle cx="343.9" cy="53.5" r="4.22" fill="url(#gpb)"/>
<circle cx="361.5" cy="53.5" r="2.42" fill="url(#gbr1)"/>
<circle cx="379.0" cy="53.5" r="4.22" fill="url(#gpb)"/>
<circle cx="308.8" cy="70.2" r="2.42" fill="url(#gbr1)"/>
<circle cx="343.9" cy="70.2" r="2.42" fill="url(#gbr1)"/>
<circle cx="379.0" cy="70.2" r="2.42" fill="url(#gbr1)"/>
<circle cx="308.8" cy="86.9" r="4.22" fill="url(#gpb)"/>
<circle cx="326.4" cy="86.9" r="2.42" fill="url(#gbr1)"/>
<circle cx="343.9" cy="86.9" r="4.22" fill="url(#gpb)"/>
<circle cx="361.5" cy="86.9" r="2.42" fill="url(#gbr1)"/>
<circle cx="379.0" cy="86.9" r="4.22" fill="url(#gpb)"/>
<circle cx="311.8" cy="23.1" r="2.48" fill="url(#gbr1)"/>
<circle cx="346.9" cy="23.1" r="2.48" fill="url(#gbr2)"/>
<circle cx="382.0" cy="23.1" r="2.48" fill="url(#gbr2)"/>
<circle cx="311.8" cy="56.5" r="2.48" fill="url(#gbr2)"/>
<circle cx="346.9" cy="56.5" r="2.48" fill="url(#gbr2)"/>
<circle cx="382.0" cy="56.5" r="2.48" fill="url(#gbr1)"/>
<circle cx="311.8" cy="89.9" r="2.48" fill="url(#gbr2)"/>
<circle cx="346.9" cy="89.9" r="2.48" fill="url(#gbr1)"/>
<circle cx="382.0" cy="89.9" r="2.48" fill="url(#gbr2)"/>
<circle cx="314.9" cy="26.1" r="4.34" fill="url(#gpb)"/>
<circle cx="332.4" cy="26.1" r="2.54" fill="url(#gbr2)"/>
<circle cx="350.0" cy="26.1" r="4.34" fill="url(#gpb)"/>
<circle cx="367.6" cy="26.1" r="2.54" fill="url(#gbr2)"/>
<circle cx="385.1" cy="26.1" r="4.34" fill="url(#gpb)"/>
<circle cx="314.9" cy="42.8" r="2.54" fill="url(#gbr2)"/>
<circle cx="350.0" cy="42.8" r="2.54" fill="url(#gbr2)"/>
<circle cx="385.1" cy="42.8" r="2.54" fill="url(#gbr2)"/>
<circle cx="314.9" cy="59.5" r="4.34" fill="url(#gpb)"/>
<circle cx="332.4" cy="59.5" r="2.54" fill="url(#gbr2)"/>
<circle cx="350.0" cy="59.5" r="4.34" fill="url(#gpb)"/>
<circle cx="367.6" cy="59.5" r="2.54" fill="url(#gbr2)"/>
<circle cx="385.1" cy="59.5" r="4.34" fill="url(#gpb)"/>
<circle cx="314.9" cy="76.2" r="2.54" fill="url(#gbr2)"/>
<circle cx="350.0" cy="76.2" r="2.54" fill="url(#gbr2)"/>
<circle cx="385.1" cy="76.2" r="2.54" fill="url(#gbr2)"/>
<circle cx="314.9" cy="92.9" r="4.34" fill="url(#gpb)"/>
<circle cx="332.4" cy="92.9" r="2.54" fill="url(#gbr2)"/>
<circle cx="350.0" cy="92.9" r="4.34" fill="url(#gpb)"/>
<circle cx="367.6" cy="92.9" r="2.54" fill="url(#gbr2)"/>
<circle cx="385.1" cy="92.9" r="4.34" fill="url(#gpb)"/>
<text x="343.0" y="112.6" font-size="11.7" text-anchor="middle" font-weight="normal" fill="#1c1c1c" >Pristine Bulk</text>
<line x1="302.8" y1="130.0" x2="311.1" y2="130.1" stroke="#c4c4c4" stroke-width="1.1"/>
<line x1="311.1" y1="130.1" x2="319.3" y2="130.2" stroke="#a86a44" stroke-width="1.1"/>
<line x1="337.9" y1="130.0" x2="328.6" y2="130.1" stroke="#c4c4c4" stroke-width="1.1"/>
<line x1="328.6" y1="130.1" x2="319.3" y2="130.2" stroke="#a86a44" stroke-width="1.1"/>
<line x1="302.8" y1="130.0" x2="302.5" y2="138.6" stroke="#c4c4c4" stroke-width="1.1"/>
<line x1="302.5" y1="138.6" x2="302.3" y2="147.1" stroke="#a86a44" stroke-width="1.1"/>
<line x1="302.8" y1="163.4" x2="302.5" y2="155.3" stroke="#c4c4c4" stroke-width="1.1"/>
<line x1="302.5" y1="155.3" x2="302.3" y2="147.1" stroke="#a86a44" stroke-width="1.1"/>
<line x1="302.8" y1="130.0" x2="304.6" y2="130.6" stroke="#c4c4c4" stroke-width="1.1"/>
<line x1="304.6" y1="130.6" x2="306.4" y2="131.3" stroke="#a86a44" stroke-width="1.1"/>
<line x1="308.9" y1="136.0" x2="307.6" y2="133.6" stroke="#c4c4c4" stroke-width="1.1"/>
<line x1="307.6" y1="133.6" x2="306.4" y2="131.3" stroke="#a86a44" stroke-width="1.1"/>
<line x1="337.9" y1="130.0" x2="345.7" y2="130.7" stroke="#c4c4c4" stroke-width="1.1"/>
<line x1="345.7" y1="130.7" x2="353.5" y2="131.3" stroke="#a86a44" stroke-width="1.1"/>
<line x1="373.0" y1="130.0" x2="363.3" y2="130.7" stroke="#c4c4c4" stroke-width="1.1"/>
<line x1="363.3" y1="130.7" x2="353.5" y2="131.3" stroke="#a86a44" stroke-width="1.1"/>
<line x1="337.9" y1="130.0" x2="337.4" y2="137.8" stroke="#c4c4c4" stroke-width="1.1"/>
<line x1="337.4" y1="137.8" x2="336.9" y2="145.6" stroke="#a86a44" stroke-width="1.1"/>
<line x1="337.9" y1="163.4" x2="337.4" y2="154.5" stroke="#c4c4c4" stroke-width="1.1"/>
<line x1="337.4" y1="154.5" x2="336.9" y2="145.6" stroke="#a86a44" stroke-width="1.1"/>
<line x1="337.9" y1="130.0" x2="340.4" y2="131.4" stroke="#c4c4c4" stroke-width="1.1"/>
<line x1="340.4" y1="131.4" x2="342.9" y2="132.9" stroke="#a86a44" stroke-width="1.1"/>
<line x1="344.0" y1="136.0" x2="343.5" y2="134.4" stroke="#c4c4c4" stroke-width="1.1"/>
<line x1="343.5" y1="134.4" x2="342.9" y2="132.9" stroke="#a86a44" stroke-width="1.1"/>
<line x1="373.0" y1="130.0" x2="373.7" y2="138.3" stroke="#c4c4c4" stroke-width="1.1"/>
<line x1="373.7" y1="138.3" x2="374.3" y2="146.6" stroke="#a86a44" stroke-width="1.1"/>
<line x1="373.0" y1="163.4" x2="373.7" y2="155.0" stroke="#c4c4c4" stroke-width="1.1"/>
<line x1="373.7" y1="155.0" x2="374.3" y2="146.6" stroke="#a86a44" stroke-width="1.1"/>
<line x1="373.0" y1="130.0" x2="374.8" y2="130.8" stroke="#c4c4c4" stroke-width="1.1"/>
<line x1="374.8" y1="130.8" x2="376.6" y2="131.6" stroke="#a86a44" stroke-width="1.1"/>
<line x1="379.1" y1="136.0" x2="377.9" y2="133.8" stroke="#c4c4c4" stroke-width="1.1"/>
<line x1="377.9" y1="133.8" x2="376.6" y2="131.6" stroke="#a86a44" stroke-width="1.1"/>
<line x1="302.8" y1="163.4" x2="311.8" y2="164.1" stroke="#c4c4c4" stroke-width="1.1"/>
<line x1="311.8" y1="164.1" x2="320.9" y2="164.9" stroke="#a86a44" stroke-width="1.1"/>
<line x1="337.9" y1="163.4" x2="329.4" y2="164.1" stroke="#c4c4c4" stroke-width="1.1"/>
<line x1="329.4" y1="164.1" x2="320.9" y2="164.9" stroke="#a86a44" stroke-width="1.1"/>
<line x1="302.8" y1="163.4" x2="302.8" y2="172.2" stroke="#c4c4c4" stroke-width="1.1"/>
<line x1="302.8" y1="172.2" x2="302.9" y2="181.1" stroke="#a86a44" stroke-width="1.1"/>
<line x1="302.8" y1="196.8" x2="302.8" y2="188.9" stroke="#c4c4c4" stroke-width="1.1"/>
<line x1="302.8" y1="188.9" x2="302.9" y2="181.1" stroke="#a86a44" stroke-width="1.1"/>
<line x1="302.8" y1="163.4" x2="304.7" y2="164.0" stroke="#c4c4c4" stroke-width="1.1"/>
<line x1="304.7" y1="164.0" x2="306.5" y2="164.7" stroke="#a86a44" stroke-width="1.1"/>
<line x1="308.9" y1="169.4" x2="307.7" y2="167.0" stroke="#c4c4c4" stroke-width="1.1"/>
<line x1="307.7" y1="167.0" x2="306.5" y2="164.7" stroke="#a86a44" stroke-width="1.1"/>
<line x1="337.9" y1="163.4" x2="347.2" y2="163.6" stroke="#c4c4c4" stroke-width="1.1"/>
<line x1="347.2" y1="163.6" x2="356.5" y2="163.8" stroke="#a86a44" stroke-width="1.1"/>
<line x1="373.0" y1="163.4" x2="364.7" y2="163.6" stroke="#c4c4c4" stroke-width="1.1"/>
<line x1="364.7" y1="163.6" x2="356.5" y2="163.8" stroke="#a86a44" stroke-width="1.1"/>
<line x1="337.9" y1="163.4" x2="337.5" y2="170.8" stroke="#c4c4c4" stroke-width="1.1"/>
<line x1="337.5" y1="170.8" x2="337.1" y2="178.2" stroke="#a86a44" stroke-width="1.1"/>
<line x1="337.9" y1="196.8" x2="337.5" y2="187.5" stroke="#c4c4c4" stroke-width="1.1"/>
<line x1="337.5" y1="187.5" x2="337.1" y2="178.2" stroke="#a86a44" stroke-width="1.1"/>
<line x1="337.9" y1="163.4" x2="340.2" y2="164.8" stroke="#c4c4c4" stroke-width="1.1"/>
<line x1="340.2" y1="164.8" x2="342.4" y2="166.3" stroke="#a86a44" stroke-width="1.1"/>
<line x1="344.0" y1="169.4" x2="343.2" y2="167.8" stroke="#c4c4c4" stroke-width="1.1"/>
<line x1="343.2" y1="167.8" x2="342.4" y2="166.3" stroke="#a86a44" stroke-width="1.1"/>
<line x1="373.0" y1="163.4" x2="373.4" y2="172.5" stroke="#c4c4c4" stroke-width="1.1"/>
<line x1="373.4" y1="172.5" x2="373.9" y2="181.6" stroke="#a86a44" stroke-width="1.1"/>
<line x1="373.0" y1="196.8" x2="373.4" y2="189.2" stroke="#c4c4c4" stroke-width="1.1"/>
<line x1="373.4" y1="189.2" x2="373.9" y2="181.6" stroke="#a86a44" stroke-width="1.1"/>
<line x1="373.0" y1="163.4" x2="375.0" y2="165.7" stroke="#c4c4c4" stroke-width="1.1"/>
<line x1="375.0" y1="165.7" x2="376.9" y2="168.1" stroke="#a86a44" stroke-width="1.1"/>
<line x1="379.1" y1="169.4" x2="378.0" y2="168.7" stroke="#c4c4c4" stroke-width="1.1"/>
<line x1="378.0" y1="168.7" x2="376.9" y2="168.1" stroke="#a86a44" stroke-width="1.1"/>
<line x1="302.8" y1="196.8" x2="311.4" y2="197.4" stroke="#c4c4c4" stroke-width="1.1"/>
<line x1="311.4" y1="197.4" x2="319.9" y2="198.0" stroke="#a86a44" stroke-width="1.1"/>
<line x1="337.9" y1="196.8" x2="328.9" y2="197.4" stroke="#c4c4c4" stroke-width="1.1"/>
<line x1="328.9" y1="197.4" x2="319.9" y2="198.0" stroke="#a86a44" stroke-width="1.1"/>
<line x1="302.8" y1="196.8" x2="304.2" y2="199.2" stroke="#c4c4c4" stroke-width="1.1"/>
<line x1="304.2" y1="199.2" x2="305.6" y2="201.5" stroke="#a86a44" stroke-width="1.1"/>
<line x1="308.9" y1="202.8" x2="307.3" y2="202.2" stroke="#c4c4c4" stroke-width="1.1"/>
<line x1="307.3" y1="202.2" x2="305.6" y2="201.5" stroke="#a86a44" stroke-width="1.1"/>
<line x1="337.9" y1="196.8" x2="347.4" y2="196.0" stroke="#c4c4c4" stroke-width="1.1"/>
<line x1="347.4" y1="196.0" x2="357.0" y2="195.2" stroke="#a86a44" stroke-width="1.1"/>
<line x1="373.0" y1="196.8" x2="365.0" y2="196.0" stroke="#c4c4c4" stroke-width="1.1"/>
<line x1="365.0" y1="196.0" x2="357.0" y2="195.2" stroke="#a86a44" stroke-width="1.1"/>
<line x1="337.9" y1="196.8" x2="338.7" y2="197.7" stroke="#c4c4c4" stroke-width="1.1"/>
<line x1="338.7" y1="197.7" x2="339.5" y2="198.7" stroke="#a86a44" stroke-width="1.1"/>
<line x1="344.0" y1="202.8" x2="341.7" y2="200.7" stroke="#c4c4c4" stroke-width="1.1"/>
<line x1="341.7" y1="200.7" x2="339.5" y2="198.7" stroke="#a86a44" stroke-width="1.1"/>
<line x1="373.0" y1="196.8" x2="375.5" y2="198.2" stroke="#c4c4c4" stroke-width="1.1"/>
<line x1="375.5" y1="198.2" x2="377.9" y2="199.5" stroke="#a86a44" stroke-width="1.1"/>
<line x1="379.1" y1="202.8" x2="378.5" y2="201.2" stroke="#c4c4c4" stroke-width="1.1"/>
<line x1="378.5" y1="201.2" x2="377.9" y2="199.5" stroke="#a86a44" stroke-width="1.1"/>
<line x1="308.9" y1="136.0" x2="317.9" y2="135.6" stroke="#c4c4c4" stroke-width="1.1"/>
<line x1="317.9" y1="135.6" x2="327.0" y2="135.2" stroke="#a86a44" stroke-width="1.1"/>
<line x1="344.0" y1="136.0" x2="335.5" y2="135.6" stroke="#c4c4c4" stroke-width="1.1"/>
<line x1="335.5" y1="135.6" x2="327.0" y2="135.2" stroke="#a86a44" stroke-width="1.1"/>
<line x1="308.9" y1="136.0" x2="308.9" y2="144.1" stroke="#c4c4c4" stroke-width="1.1"/>
<line x1="308.9" y1="144.1" x2="308.9" y2="152.2" stroke="#a86a44" stroke-width="1.1"/>
<line x1="308.9" y1="169.4" x2="308.9" y2="160.8" stroke="#c4c4c4" stroke-width="1.1"/>
<line x1="308.9" y1="160.8" x2="308.9" y2="152.2" stroke="#a86a44" stroke-width="1.1"/>
<line x1="308.9" y1="136.0" x2="310.1" y2="137.7" stroke="#c4c4c4" stroke-width="1.1"/>
<line x1="310.1" y1="137.7" x2="311.4" y2="139.3" stroke="#a86a44" stroke-width="1.1"/>
<line x1="315.0" y1="142.0" x2="313.2" y2="140.7" stroke="#c4c4c4" stroke-width="1.1"/>
<line x1="313.2" y1="140.7" x2="311.4" y2="139.3" stroke="#a86a44" stroke-width="1.1"/>
<line x1="344.0" y1="136.0" x2="352.9" y2="136.8" stroke="#c4c4c4" stroke-width="1.1"/>
<line x1="352.9" y1="136.8" x2="361.9" y2="137.6" stroke="#a86a44" stroke-width="1.1"/>
<line x1="379.1" y1="136.0" x2="370.5" y2="136.8" stroke="#c4c4c4" stroke-width="1.1"/>
<line x1="370.5" y1="136.8" x2="361.9" y2="137.6" stroke="#a86a44" stroke-width="1.1"/>
<line x1="344.0" y1="136.0" x2="344.4" y2="145.2" stroke="#c4c4c4" stroke-width="1.1"/>
<line x1="344.4" y1="145.2" x2="344.7" y2="154.4" stroke="#a86a44" stroke-width="1.1"/>
<line x1="344.0" y1="169.4" x2="344.4" y2="161.9" stroke="#c4c4c4" stroke-width="1.1"/>
<line x1="344.4" y1="161.9" x2="344.7" y2="154.4" stroke="#a86a44" stroke-width="1.1"/>
<line x1="344.0" y1="136.0" x2="346.2" y2="138.5" stroke="#c4c4c4" stroke-width="1.1"/>
<line x1="346.2" y1="138.5" x2="348.5" y2="141.0" stroke="#a86a44" stroke-width="1.1"/>
<line x1="350.1" y1="142.0" x2="349.3" y2="141.5" stroke="#c4c4c4" stroke-width="1.1"/>
<line x1="349.3" y1="141.5" x2="348.5" y2="141.0" stroke="#a86a44" stroke-width="1.1"/>
<line x1="379.1" y1="136.0" x2="379.4" y2="143.7" stroke="#c4c4c4" stroke-width="1.1"/>
<line x1="379.4" y1="143.7" x2="379.8" y2="151.4" stroke="#a86a44" stroke-width="1.1"/>
<line x1="379.1" y1="169.4" x2="379.4" y2="160.4" stroke="#c4c4c4" stroke-width="1.1"/>
<line x1="379.4" y1="160.4" x2="379.8" y2="151.4" stroke="#a86a44" stroke-width="1.1"/>
<line x1="379.1" y1="136.0" x2="381.3" y2="138.4" stroke="#c4c4c4" stroke-width="1.1"/>
<line x1="381.3" y1="138.4" x2="383.6" y2="140.9" stroke="#a86a44" stroke-width="1.1"/>
<line x1="385.2" y1="142.0" x2="384.4" y2="141.4" stroke="#c4c4c4" stroke-width="1.1"/>
<line x1="384.4" y1="141.4" x2="383.6" y2="140.9" stroke="#a86a44" stroke-width="1.1"/>
<line x1="308.9" y1="169.4" x2="318.5" y2="169.5" stroke="#c4c4c4" stroke-width="1.1"/>
<line x1="318.5" y1="169.5" x2="328.1" y2="169.7" stroke="#a86a44" stroke-width="1.1"/>
<line x1="344.0" y1="169.4" x2="336.0" y2="169.5" stroke="#c4c4c4" stroke-width="1.1"/>
<line x1="336.0" y1="169.5" x2="328.1" y2="169.7" stroke="#a86a44" stroke-width="1.1"/>
<line x1="308.9" y1="169.4" x2="309.3" y2="177.2" stroke="#c4c4c4" stroke-width="1.1"/>
<line x1="309.3" y1="177.2" x2="309.8" y2="184.9" stroke="#a86a44" stroke-width="1.1"/>
<line x1="308.9" y1="202.8" x2="309.3" y2="193.9" stroke="#c4c4c4" stroke-width="1.1"/>
<line x1="309.3" y1="193.9" x2="309.8" y2="184.9" stroke="#a86a44" stroke-width="1.1"/>
<line x1="308.9" y1="169.4" x2="311.1" y2="171.0" stroke="#c4c4c4" stroke-width="1.1"/>
<line x1="311.1" y1="171.0" x2="313.3" y2="172.7" stroke="#a86a44" stroke-width="1.1"/>
<line x1="315.0" y1="175.4" x2="314.1" y2="174.0" stroke="#c4c4c4" stroke-width="1.1"/>
<line x1="314.1" y1="174.0" x2="313.3" y2="172.7" stroke="#a86a44" stroke-width="1.1"/>
<line x1="344.0" y1="169.4" x2="352.3" y2="168.5" stroke="#c4c4c4" stroke-width="1.1"/>
<line x1="352.3" y1="168.5" x2="360.7" y2="167.7" stroke="#a86a44" stroke-width="1.1"/>
<line x1="379.1" y1="169.4" x2="369.9" y2="168.5" stroke="#c4c4c4" stroke-width="1.1"/>
<line x1="369.9" y1="168.5" x2="360.7" y2="167.7" stroke="#a86a44" stroke-width="1.1"/>
<line x1="344.0" y1="169.4" x2="344.7" y2="178.7" stroke="#c4c4c4" stroke-width="1.1"/>
<line x1="344.7" y1="178.7" x2="345.4" y2="188.1" stroke="#a86a44" stroke-width="1.1"/>
<line x1="344.0" y1="202.8" x2="344.7" y2="195.4" stroke="#c4c4c4" stroke-width="1.1"/>
<line x1="344.7" y1="195.4" x2="345.4" y2="188.1" stroke="#a86a44" stroke-width="1.1"/>
<line x1="344.0" y1="169.4" x2="344.7" y2="171.5" stroke="#c4c4c4" stroke-width="1.1"/>
<line x1="344.7" y1="171.5" x2="345.4" y2="173.6" stroke="#a86a44" stroke-width="1.1"/>
<line x1="350.1" y1="175.4" x2="347.8" y2="174.5" stroke="#c4c4c4" stroke-width="1.1"/>
<line x1="347.8" y1="174.5" x2="345.4" y2="173.6" stroke="#a86a44" stroke-width="1.1"/>
<line x1="379.1" y1="169.4" x2="378.9" y2="177.1" stroke="#c4c4c4" stroke-width="1.1"/>
<line x1="378.9" y1="177.1" x2="378.7" y2="184.7" stroke="#a86a44" stroke-width="1.1"/>
<line x1="379.1" y1="202.8" x2="378.9" y2="193.8" stroke="#c4c4c4" stroke-width="1.1"/>
<line x1="378.9" y1="193.8" x2="378.7" y2="184.7" stroke="#a86a44" stroke-width="1.1"/>
<line x1="379.1" y1="169.4" x2="380.2" y2="171.4" stroke="#c4c4c4" stroke-width="1.1"/>
<line x1="380.2" y1="171.4" x2="381.3" y2="173.5" stroke="#a86a44" stroke-width="1.1"/>
<line x1="385.2" y1="175.4" x2="383.3" y2="174.4" stroke="#c4c4c4" stroke-width="1.1"/>
<line x1="383.3" y1="174.4" x2="381.3" y2="173.5" stroke="#a86a44" stroke-width="1.1"/>
<line x1="308.9" y1="202.8" x2="318.4" y2="201.9" stroke="#c4c4c4" stroke-width="1.1"/>
<line x1="318.4" y1="201.9" x2="327.9" y2="201.0" stroke="#a86a44" stroke-width="1.1"/>
<line x1="344.0" y1="202.8" x2="336.0" y2="201.9" stroke="#c4c4c4" stroke-width="1.1"/>
<line x1="336.0" y1="201.9" x2="327.9" y2="201.0" stroke="#a86a44" stroke-width="1.1"/>
<line x1="308.9" y1="202.8" x2="310.7" y2="203.4" stroke="#c4c4c4" stroke-width="1.1"/>
<line x1="310.7" y1="203.4" x2="312.4" y2="204.0" stroke="#a86a44" stroke-width="1.1"/>
<line x1="315.0" y1="208.8" x2="313.7" y2="206.4" stroke="#c4c4c4" stroke-width="1.1"/>
<line x1="313.7" y1="206.4" x2="312.4" y2="204.0" stroke="#a86a44" stroke-width="1.1"/>
<line x1="344.0" y1="202.8" x2="353.2" y2="202.5" stroke="#c4c4c4" stroke-width="1.1"/>
<line x1="353.2" y1="202.5" x2="362.4" y2="202.1" stroke="#a86a44" stroke-width="1.1"/>
<line x1="379.1" y1="202.8" x2="370.8" y2="202.5" stroke="#c4c4c4" stroke-width="1.1"/>
<line x1="370.8" y1="202.5" x2="362.4" y2="202.1" stroke="#a86a44" stroke-width="1.1"/>
<line x1="344.0" y1="202.8" x2="346.3" y2="205.3" stroke="#c4c4c4" stroke-width="1.1"/>
<line x1="346.3" y1="205.3" x2="348.6" y2="207.7" stroke="#a86a44" stroke-width="1.1"/>
<line x1="350.1" y1="208.8" x2="349.3" y2="208.3" stroke="#c4c4c4" stroke-width="1.1"/>
<line x1="349.3" y1="208.3" x2="348.6" y2="207.7" stroke="#a86a44" stroke-width="1.1"/>
<line x1="379.1" y1="202.8" x2="380.6" y2="205.3" stroke="#c4c4c4" stroke-width="1.1"/>
<line x1="380.6" y1="205.3" x2="382.2" y2="207.8" stroke="#a86a44" stroke-width="1.1"/>
<line x1="385.2" y1="208.8" x2="383.7" y2="208.3" stroke="#c4c4c4" stroke-width="1.1"/>
<line x1="383.7" y1="208.3" x2="382.2" y2="207.8" stroke="#a86a44" stroke-width="1.1"/>
<line x1="315.0" y1="142.0" x2="323.4" y2="141.2" stroke="#c4c4c4" stroke-width="1.1"/>
<line x1="323.4" y1="141.2" x2="331.8" y2="140.3" stroke="#a86a44" stroke-width="1.1"/>
<line x1="350.1" y1="142.0" x2="340.9" y2="141.2" stroke="#c4c4c4" stroke-width="1.1"/>
<line x1="340.9" y1="141.2" x2="331.8" y2="140.3" stroke="#a86a44" stroke-width="1.1"/>
<line x1="315.0" y1="142.0" x2="315.2" y2="149.4" stroke="#c4c4c4" stroke-width="1.1"/>
<line x1="315.2" y1="149.4" x2="315.4" y2="156.8" stroke="#a86a44" stroke-width="1.1"/>
<line x1="315.0" y1="175.4" x2="315.2" y2="166.1" stroke="#c4c4c4" stroke-width="1.1"/>
<line x1="315.2" y1="166.1" x2="315.4" y2="156.8" stroke="#a86a44" stroke-width="1.1"/>
<line x1="350.1" y1="142.0" x2="358.3" y2="141.8" stroke="#c4c4c4" stroke-width="1.1"/>
<line x1="358.3" y1="141.8" x2="366.4" y2="141.6" stroke="#a86a44" stroke-width="1.1"/>
<line x1="385.2" y1="142.0" x2="375.8" y2="141.8" stroke="#c4c4c4" stroke-width="1.1"/>
<line x1="375.8" y1="141.8" x2="366.4" y2="141.6" stroke="#a86a44" stroke-width="1.1"/>
<line x1="350.1" y1="142.0" x2="350.3" y2="149.7" stroke="#c4c4c4" stroke-width="1.1"/>
<line x1="350.3" y1="149.7" x2="350.5" y2="157.3" stroke="#a86a44" stroke-width="1.1"/>
<line x1="350.1" y1="175.4" x2="350.3" y2="166.4" stroke="#c4c4c4" stroke-width="1.1"/>
<line x1="350.3" y1="166.4" x2="350.5" y2="157.3" stroke="#a86a44" stroke-width="1.1"/>
<line x1="385.2" y1="142.0" x2="384.3" y2="151.1" stroke="#c4c4c4" stroke-width="1.1"/>
<line x1="384.3" y1="151.1" x2="383.4" y2="160.2" stroke="#a86a44" stroke-width="1.1"/>
<line x1="385.2" y1="175.4" x2="384.3" y2="167.8" stroke="#c4c4c4" stroke-width="1.1"/>
<line x1="384.3" y1="167.8" x2="383.4" y2="160.2" stroke="#a86a44" stroke-width="1.1"/>
<line x1="315.0" y1="175.4" x2="323.4" y2="176.3" stroke="#c4c4c4" stroke-width="1.1"/>
<line x1="323.4" y1="176.3" x2="331.8" y2="177.2" stroke="#a86a44" stroke-width="1.1"/>
<line x1="350.1" y1="175.4" x2="341.0" y2="176.3" stroke="#c4c4c4" stroke-width="1.1"/>
<line x1="341.0" y1="176.3" x2="331.8" y2="177.2" stroke="#a86a44" stroke-width="1.1"/>
<line x1="315.0" y1="175.4" x2="315.8" y2="183.5" stroke="#c4c4c4" stroke-width="1.1"/>
<line x1="315.8" y1="183.5" x2="316.6" y2="191.6" stroke="#a86a44" stroke-width="1.1"/>
<line x1="315.0" y1="208.8" x2="315.8" y2="200.2" stroke="#c4c4c4" stroke-width="1.1"/>
<line x1="315.8" y1="200.2" x2="316.6" y2="191.6" stroke="#a86a44" stroke-width="1.1"/>
<line x1="350.1" y1="175.4" x2="358.8" y2="175.4" stroke="#c4c4c4" stroke-width="1.1"/>
<line x1="358.8" y1="175.4" x2="367.5" y2="175.5" stroke="#a86a44" stroke-width="1.1"/>
<line x1="385.2" y1="175.4" x2="376.3" y2="175.4" stroke="#c4c4c4" stroke-width="1.1"/>
<line x1="376.3" y1="175.4" x2="367.5" y2="175.5" stroke="#a86a44" stroke-width="1.1"/>
<line x1="350.1" y1="175.4" x2="350.4" y2="183.9" stroke="#c4c4c4" stroke-width="1.1"/>
<line x1="350.4" y1="183.9" x2="350.7" y2="192.5" stroke="#a86a44" stroke-width="1.1"/>
<line x1="350.1" y1="208.8" x2="350.4" y2="200.6" stroke="#c4c4c4" stroke-width="1.1"/>
<line x1="350.4" y1="200.6" x2="350.7" y2="192.5" stroke="#a86a44" stroke-width="1.1"/>
<line x1="385.2" y1="175.4" x2="385.3" y2="184.0" stroke="#c4c4c4" stroke-width="1.1"/>
<line x1="385.3" y1="184.0" x2="385.4" y2="192.6" stroke="#a86a44" stroke-width="1.1"/>
<line x1="385.2" y1="208.8" x2="385.3" y2="200.7" stroke="#c4c4c4" stroke-width="1.1"/>
<line x1="385.3" y1="200.7" x2="385.4" y2="192.6" stroke="#a86a44" stroke-width="1.1"/>
<line x1="315.0" y1="208.8" x2="324.7" y2="208.8" stroke="#c4c4c4" stroke-width="1.1"/>
<line x1="324.7" y1="208.8" x2="334.3" y2="208.8" stroke="#a86a44" stroke-width="1.1"/>
<line x1="350.1" y1="208.8" x2="342.2" y2="208.8" stroke="#c4c4c4" stroke-width="1.1"/>
<line x1="342.2" y1="208.8" x2="334.3" y2="208.8" stroke="#a86a44" stroke-width="1.1"/>
<line x1="350.1" y1="208.8" x2="358.7" y2="209.2" stroke="#c4c4c4" stroke-width="1.1"/>
<line x1="358.7" y1="209.2" x2="367.4" y2="209.7" stroke="#a86a44" stroke-width="1.1"/>
<line x1="385.2" y1="208.8" x2="376.3" y2="209.2" stroke="#c4c4c4" stroke-width="1.1"/>
<line x1="376.3" y1="209.2" x2="367.4" y2="209.7" stroke="#a86a44" stroke-width="1.1"/>
<circle cx="302.8" cy="130.0" r="4.10" fill="url(#gpb)"/>
<circle cx="319.3" cy="130.2" r="2.30" fill="url(#gbr0)"/>
<circle cx="337.9" cy="130.0" r="4.10" fill="url(#gpb)"/>
<circle cx="353.5" cy="131.3" r="2.30" fill="url(#gbr0)"/>
<circle cx="373.0" cy="130.0" r="4.10" fill="url(#gpb)"/>
<circle cx="302.3" cy="147.1" r="2.30" fill="url(#gbr0)"/>
<circle cx="336.9" cy="145.6" r="2.30" fill="url(#gbr0)"/>
<circle cx="374.3" cy="146.6" r="2.30" fill="url(#gbr0)"/>
<circle cx="302.8" cy="163.4" r="4.10" fill="url(#gpb)"/>
<circle cx="320.9" cy="164.9" r="2.30" fill="url(#gbr0)"/>
<circle cx="337.9" cy="163.4" r="4.10" fill="url(#gpb)"/>
<circle cx="356.5" cy="163.8" r="2.30" fill="url(#gbr0)"/>
<circle cx="373.0" cy="163.4" r="4.10" fill="url(#gpb)"/>
<circle cx="302.9" cy="181.1" r="2.30" fill="url(#gbr0)"/>
<circle cx="337.1" cy="178.2" r="2.30" fill="url(#gbr0)"/>
<circle cx="373.9" cy="181.6" r="2.30" fill="url(#gbr0)"/>
<circle cx="302.8" cy="196.8" r="4.10" fill="url(#gpb)"/>
<circle cx="319.9" cy="198.0" r="2.30" fill="url(#gbr0)"/>
<circle cx="337.9" cy="196.8" r="4.10" fill="url(#gpb)"/>
<circle cx="357.0" cy="195.2" r="2.30" fill="url(#gbr0)"/>
<circle cx="373.0" cy="196.8" r="4.10" fill="url(#gpb)"/>
<circle cx="306.4" cy="131.3" r="2.36" fill="url(#gbr0)"/>
<circle cx="342.9" cy="132.9" r="2.36" fill="url(#gbr1)"/>
<circle cx="376.6" cy="131.6" r="2.36" fill="url(#gbr1)"/>
<circle cx="306.5" cy="164.7" r="2.36" fill="url(#gbr1)"/>
<circle cx="342.4" cy="166.3" r="2.36" fill="url(#gbr1)"/>
<circle cx="376.9" cy="168.1" r="2.36" fill="url(#gbr0)"/>
<circle cx="305.6" cy="201.5" r="2.36" fill="url(#gbr1)"/>
<circle cx="339.5" cy="198.7" r="2.36" fill="url(#gbr0)"/>
<circle cx="377.9" cy="199.5" r="2.36" fill="url(#gbr1)"/>
<circle cx="315.7" cy="144.8" r="1.1" fill="#eebcc6"/>
<circle cx="313.9" cy="150.8" r="1.1" fill="#eebcc6"/>
<circle cx="316.7" cy="158.4" r="1.1" fill="#eebcc6"/>
<circle cx="320.8" cy="159.7" r="1.1" fill="#eebcc6"/>
<circle cx="328.7" cy="148.7" r="1.1" fill="#eebcc6"/>
<circle cx="332.7" cy="150.3" r="1.1" fill="#eebcc6"/>
<circle cx="335.7" cy="158.7" r="1.1" fill="#eebcc6"/>
<circle cx="332.5" cy="164.2" r="1.1" fill="#eebcc6"/>
<circle cx="324.8" cy="144.1" r="1.1" fill="#eebcc6"/>
<circle cx="325.9" cy="158.6" r="1.1" fill="#eebcc6"/>
<circle cx="325.0" cy="151.5" r="1.1" fill="#eebcc6"/>
<line x1="316.9" y1="148.5" x2="319.3" y2="156.1" stroke="#e8b8c4" stroke-width="0.8"/>
<line x1="329.3" y1="152.6" x2="327.1" y2="154.8" stroke="#e8b8c4" stroke-width="0.8"/>
<line x1="323.3" y1="148.0" x2="320.1" y2="148.2" stroke="#1a1a1a" stroke-width="1.6"/>
<line x1="320.1" y1="148.2" x2="316.9" y2="148.5" stroke="#2446b8" stroke-width="1.6"/>
<line x1="323.3" y1="148.0" x2="326.3" y2="150.3" stroke="#1a1a1a" stroke-width="1.6"/>
<line x1="326.3" y1="150.3" x2="329.3" y2="152.6" stroke="#2446b8" stroke-width="1.6"/>
<line x1="327.1" y1="154.8" x2="323.2" y2="155.4" stroke="#1a1a1a" stroke-width="1.6"/>
<line x1="323.2" y1="155.4" x2="319.3" y2="156.1" stroke="#2446b8" stroke-width="1.6"/>
<line x1="327.1" y1="154.8" x2="329.7" y2="157.5" stroke="#1a1a1a" stroke-width="1.6"/>
<line x1="329.7" y1="157.5" x2="332.3" y2="160.3" stroke="#2446b8" stroke-width="1.6"/>
<path d="M314.2,146.8 L319.6,146.8 L316.9,151.2 z" fill="#2446b8"/>
<path d="M316.6,154.4 L322.0,154.4 L319.3,158.8 z" fill="#2446b8"/>
<path d="M326.6,150.9 L332.0,150.9 L329.3,155.3 z" fill="#2446b8"/>
<path d="M329.6,158.6 L335.0,158.6 L332.3,163.0 z" fill="#2446b8"/>
<path d="M320.9,149.5 L325.7,149.5 L323.3,145.6 z" fill="#1a1a1a"/>
<path d="M324.7,156.3 L329.5,156.3 L327.1,152.4 z" fill="#1a1a1a"/>
<circle cx="352.0" cy="147.7" r="1.1" fill="#eebcc6"/>
<circle cx="351.5" cy="154.1" r="1.1" fill="#eebcc6"/>
<circle cx="355.9" cy="161.2" r="1.1" fill="#eebcc6"/>
<circle cx="360.4" cy="161.6" r="1.1" fill="#eebcc6"/>
<circle cx="365.9" cy="148.9" r="1.1" fill="#eebcc6"/>
<circle cx="370.3" cy="149.6" r="1.1" fill="#eebcc6"/>
<circle cx="375.1" cy="157.5" r="1.1" fill="#eebcc6"/>
<circle cx="373.1" cy="163.7" r="1.1" fill="#eebcc6"/>
<circle cx="361.0" cy="145.1" r="1.1" fill="#eebcc6"/>
<circle cx="365.2" cy="159.5" r="1.1" fill="#eebcc6"/>
<circle cx="362.8" cy="152.4" r="1.1" fill="#eebcc6"/>
<line x1="354.0" y1="151.2" x2="358.1" y2="158.3" stroke="#e8b8c4" stroke-width="0.8"/>
<line x1="367.3" y1="152.7" x2="365.6" y2="155.4" stroke="#e8b8c4" stroke-width="0.8"/>
<line x1="360.3" y1="149.3" x2="357.2" y2="150.3" stroke="#1a1a1a" stroke-width="1.6"/>
<line x1="357.2" y1="150.3" x2="354.0" y2="151.2" stroke="#2446b8" stroke-width="1.6"/>
<line x1="360.3" y1="149.3" x2="363.8" y2="151.0" stroke="#1a1a1a" stroke-width="1.6"/>
<line x1="363.8" y1="151.0" x2="367.3" y2="152.7" stroke="#2446b8" stroke-width="1.6"/>
<line x1="365.6" y1="155.4" x2="361.8" y2="156.9" stroke="#1a1a1a" stroke-width="1.6"/>
<line x1="361.8" y1="156.9" x2="358.1" y2="158.3" stroke="#2446b8" stroke-width="1.6"/>
<line x1="365.6" y1="155.4" x2="368.8" y2="157.6" stroke="#1a1a1a" stroke-width="1.6"/>
<line x1="368.8" y1="157.6" x2="372.0" y2="159.8" stroke="#2446b8" stroke-width="1.6"/>
<path d="M351.3,149.5 L356.7,149.5 L354.0,153.9 z" fill="#2446b8"/>
<path d="M355.4,156.6 L360.8,156.6 L358.1,161.0 z" fill="#2446b8"/>
<path d="M364.6,151.0 L370.0,151.0 L367.3,155.4 z" fill="#2446b8"/>
<path d="M369.3,158.1 L374.7,158.1 L372.0,162.5 z" fill="#2446b8"/>
<path d="M357.9,150.8 L362.7,150.8 L360.3,146.9 z" fill="#1a1a1a"/>
<path d="M363.2,156.9 L368.0,156.9 L365.6,153.0 z" fill="#1a1a1a"/>
<circle cx="317.4" cy="176.6" r="1.1" fill="#eebcc6"/>
<circle cx="315.4" cy="182.5" r="1.1" fill="#eebcc6"/>
<circle cx="317.8" cy="190.2" r="1.1" fill="#eebcc6"/>
<circle cx="321.8" cy="191.6" r="1.1" fill="#eebcc6"/>
<circle cx="330.1" cy="181.1" r="1.1" fill="#eebcc6"/>
<circle cx="334.0" cy="182.9" r="1.1" fill="#eebcc6"/>
<circle cx="336.6" cy="191.3" r="1.1" fill="#eebcc6"/>
<circle cx="333.2" cy="196.6" r="1.1" fill="#eebcc6"/>
<circle cx="326.4" cy="176.4" r="1.1" fill="#eebcc6"/>
<circle cx="326.9" cy="190.8" r="1.1" fill="#eebcc6"/>
<circle cx="326.3" cy="183.7" r="1.1" fill="#eebcc6"/>
<line x1="318.4" y1="180.4" x2="320.5" y2="188.0" stroke="#e8b8c4" stroke-width="0.8"/>
<line x1="330.5" y1="185.0" x2="328.2" y2="187.1" stroke="#e8b8c4" stroke-width="0.8"/>
<line x1="324.8" y1="180.2" x2="321.6" y2="180.3" stroke="#1a1a1a" stroke-width="1.6"/>
<line x1="321.6" y1="180.3" x2="318.4" y2="180.4" stroke="#2446b8" stroke-width="1.6"/>
<line x1="324.8" y1="180.2" x2="327.6" y2="182.6" stroke="#1a1a1a" stroke-width="1.6"/>
<line x1="327.6" y1="182.6" x2="330.5" y2="185.0" stroke="#2446b8" stroke-width="1.6"/>
<line x1="328.2" y1="187.1" x2="324.3" y2="187.6" stroke="#1a1a1a" stroke-width="1.6"/>
<line x1="324.3" y1="187.6" x2="320.5" y2="188.0" stroke="#2446b8" stroke-width="1.6"/>
<line x1="328.2" y1="187.1" x2="330.7" y2="189.9" stroke="#1a1a1a" stroke-width="1.6"/>
<line x1="330.7" y1="189.9" x2="333.2" y2="192.7" stroke="#2446b8" stroke-width="1.6"/>
<path d="M315.7,178.7 L321.1,178.7 L318.4,183.1 z" fill="#2446b8"/>
<path d="M317.8,186.3 L323.2,186.3 L320.5,190.7 z" fill="#2446b8"/>
<path d="M327.8,183.3 L333.2,183.3 L330.5,187.7 z" fill="#2446b8"/>
<path d="M330.5,191.0 L335.9,191.0 L333.2,195.4 z" fill="#2446b8"/>
<path d="M322.4,181.7 L327.2,181.7 L324.8,177.8 z" fill="#1a1a1a"/>
<path d="M325.8,188.6 L330.6,188.6 L328.2,184.7 z" fill="#1a1a1a"/>
<circle cx="350.8" cy="180.0" r="1.1" fill="#eebcc6"/>
<circle cx="349.5" cy="186.3" r="1.1" fill="#eebcc6"/>
<circle cx="352.9" cy="193.7" r="1.1" fill="#eebcc6"/>
<circle cx="357.2" cy="194.7" r="1.1" fill="#eebcc6"/>
<circle cx="364.2" cy="182.9" r="1.1" fill="#eebcc6"/>
<circle cx="368.4" cy="184.2" r="1.1" fill="#eebcc6"/>
<circle cx="372.1" cy="192.4" r="1.1" fill="#eebcc6"/>
<circle cx="369.4" cy="198.2" r="1.1" fill="#eebcc6"/>
<circle cx="359.8" cy="178.6" r="1.1" fill="#eebcc6"/>
<circle cx="362.2" cy="193.2" r="1.1" fill="#eebcc6"/>
<circle cx="360.7" cy="186.0" r="1.1" fill="#eebcc6"/>
<line x1="352.2" y1="183.7" x2="355.4" y2="191.2" stroke="#e8b8c4" stroke-width="0.8"/>
<line x1="365.1" y1="186.8" x2="363.1" y2="189.2" stroke="#e8b8c4" stroke-width="0.8"/>
<line x1="358.7" y1="182.6" x2="355.5" y2="183.2" stroke="#1a1a1a" stroke-width="1.6"/>
<line x1="355.5" y1="183.2" x2="352.2" y2="183.7" stroke="#2446b8" stroke-width="1.6"/>
<line x1="358.7" y1="182.6" x2="361.9" y2="184.7" stroke="#1a1a1a" stroke-width="1.6"/>
<line x1="361.9" y1="184.7" x2="365.1" y2="186.8" stroke="#2446b8" stroke-width="1.6"/>
<line x1="363.1" y1="189.2" x2="359.2" y2="190.2" stroke="#1a1a1a" stroke-width="1.6"/>
<line x1="359.2" y1="190.2" x2="355.4" y2="191.2" stroke="#2446b8" stroke-width="1.6"/>
<line x1="363.1" y1="189.2" x2="365.9" y2="191.8" stroke="#1a1a1a" stroke-width="1.6"/>
<line x1="365.9" y1="191.8" x2="368.8" y2="194.3" stroke="#2446b8" stroke-width="1.6"/>
<path d="M349.5,182.0 L354.9,182.0 L352.2,186.4 z" fill="#2446b8"/>
<path d="M352.7,189.5 L358.1,189.5 L355.4,193.9 z" fill="#2446b8"/>
<path d="M362.4,185.1 L367.8,185.1 L365.1,189.5 z" fill="#2446b8"/>
<path d="M366.1,192.6 L371.5,192.6 L368.8,197.0 z" fill="#2446b8"/>
<path d="M356.3,184.1 L361.1,184.1 L358.7,180.2 z" fill="#1a1a1a"/>
<path d="M360.7,190.7 L365.5,190.7 L363.1,186.8 z" fill="#1a1a1a"/>
<circle cx="308.9" cy="136.0" r="4.22" fill="url(#gpb)"/>
<circle cx="327.0" cy="135.2" r="2.42" fill="url(#gbr1)"/>
<circle cx="344.0" cy="136.0" r="4.22" fill="url(#gpb)"/>
<circle cx="361.9" cy="137.6" r="2.42" fill="url(#gbr1)"/>
<circle cx="379.1" cy="136.0" r="4.22" fill="url(#gpb)"/>
<circle cx="308.9" cy="152.2" r="2.42" fill="url(#gbr1)"/>
<circle cx="344.7" cy="154.4" r="2.42" fill="url(#gbr1)"/>
<circle cx="379.8" cy="151.4" r="2.42" fill="url(#gbr1)"/>
<circle cx="308.9" cy="169.4" r="4.22" fill="url(#gpb)"/>
<circle cx="328.1" cy="169.7" r="2.42" fill="url(#gbr1)"/>
<circle cx="344.0" cy="169.4" r="4.22" fill="url(#gpb)"/>
<circle cx="379.1" cy="169.4" r="4.22" fill="url(#gpb)"/>
<circle cx="309.8" cy="184.9" r="2.42" fill="url(#gbr1)"/>
<circle cx="345.4" cy="188.1" r="2.42" fill="url(#gbr1)"/>
<circle cx="378.7" cy="184.7" r="2.42" fill="url(#gbr1)"/>
<circle cx="308.9" cy="202.8" r="4.22" fill="url(#gpb)"/>
<circle cx="327.9" cy="201.0" r="2.42" fill="url(#gbr1)"/>
<circle cx="344.0" cy="202.8" r="4.22" fill="url(#gpb)"/>
<circle cx="362.4" cy="202.1" r="2.42" fill="url(#gbr1)"/>
<circle cx="379.1" cy="202.8" r="4.22" fill="url(#gpb)"/>
<circle cx="311.4" cy="139.3" r="2.48" fill="url(#gbr1)"/>
<circle cx="348.5" cy="141.0" r="2.48" fill="url(#gbr2)"/>
<circle cx="383.6" cy="140.9" r="2.48" fill="url(#gbr2)"/>
<circle cx="313.3" cy="172.7" r="2.48" fill="url(#gbr2)"/>
<circle cx="345.4" cy="173.6" r="2.48" fill="url(#gbr2)"/>
<circle cx="381.3" cy="173.5" r="2.48" fill="url(#gbr1)"/>
<circle cx="312.4" cy="204.0" r="2.48" fill="url(#gbr2)"/>
<circle cx="348.6" cy="207.7" r="2.48" fill="url(#gbr1)"/>
<circle cx="382.2" cy="207.8" r="2.48" fill="url(#gbr2)"/>
<circle cx="315.0" cy="142.0" r="4.34" fill="url(#gpb)"/>
<circle cx="331.8" cy="140.3" r="2.54" fill="url(#gbr2)"/>
<circle cx="350.1" cy="142.0" r="4.34" fill="url(#gpb)"/>
<circle cx="366.4" cy="141.6" r="2.54" fill="url(#gbr2)"/>
<circle cx="385.2" cy="142.0" r="4.34" fill="url(#gpb)"/>
<circle cx="315.4" cy="156.8" r="2.54" fill="url(#gbr2)"/>
<circle cx="350.5" cy="157.3" r="2.54" fill="url(#gbr2)"/>
<circle cx="383.4" cy="160.2" r="2.54" fill="url(#gbr2)"/>
<circle cx="315.0" cy="175.4" r="4.34" fill="url(#gpb)"/>
<circle cx="331.8" cy="177.2" r="2.54" fill="url(#gbr2)"/>
<circle cx="350.1" cy="175.4" r="4.34" fill="url(#gpb)"/>
<circle cx="367.5" cy="175.5" r="2.54" fill="url(#gbr2)"/>
<circle cx="385.2" cy="175.4" r="4.34" fill="url(#gpb)"/>
<circle cx="316.6" cy="191.6" r="2.54" fill="url(#gbr2)"/>
<circle cx="350.7" cy="192.5" r="2.54" fill="url(#gbr2)"/>
<circle cx="385.4" cy="192.6" r="2.54" fill="url(#gbr2)"/>
<circle cx="315.0" cy="208.8" r="4.34" fill="url(#gpb)"/>
<circle cx="334.3" cy="208.8" r="2.54" fill="url(#gbr2)"/>
<circle cx="350.1" cy="208.8" r="4.34" fill="url(#gpb)"/>
<circle cx="367.4" cy="209.7" r="2.54" fill="url(#gbr2)"/>
<circle cx="385.2" cy="208.8" r="4.34" fill="url(#gpb)"/>
<circle cx="361.4" cy="166.7" r="3.8" fill="#fff" fill-opacity="0.6" stroke="#e03a3a" stroke-width="0.9" stroke-dasharray="1.6,1.1"/>
<text x="349.6" y="229.2" font-size="11.8" text-anchor="middle" fill="#1c1c1c">Br vacancy (V<tspan font-size="7.8" dy="2.5">Br</tspan><tspan dy="-2.5">)</tspan></text>
<rect x="449.7" y="10.6" width="218.90000000000003" height="85.80000000000001" fill="none" stroke="#333" stroke-width="1"/>
<line x1="449.70" y1="96.40" x2="451.70" y2="96.40" stroke="#333" stroke-width="0.8" />
<text x="447.3" y="99.8" font-size="9.7" text-anchor="end" font-weight="bold" fill="#1c1c1c" >0</text>
<line x1="449.70" y1="79.24" x2="451.70" y2="79.24" stroke="#333" stroke-width="0.8" />
<text x="447.3" y="82.6" font-size="9.7" text-anchor="end" font-weight="bold" fill="#1c1c1c" >30</text>
<line x1="449.70" y1="62.08" x2="451.70" y2="62.08" stroke="#333" stroke-width="0.8" />
<text x="447.3" y="65.5" font-size="9.7" text-anchor="end" font-weight="bold" fill="#1c1c1c" >60</text>
<line x1="449.70" y1="44.92" x2="451.70" y2="44.92" stroke="#333" stroke-width="0.8" />
<text x="447.3" y="48.3" font-size="9.7" text-anchor="end" font-weight="bold" fill="#1c1c1c" >90</text>
<line x1="449.70" y1="27.76" x2="451.70" y2="27.76" stroke="#333" stroke-width="0.8" />
<text x="447.3" y="31.2" font-size="9.7" text-anchor="end" font-weight="bold" fill="#1c1c1c" >120</text>
<line x1="449.70" y1="10.60" x2="451.70" y2="10.60" stroke="#333" stroke-width="0.8" />
<text x="447.3" y="14.0" font-size="9.7" text-anchor="end" font-weight="bold" fill="#1c1c1c" >150</text>
<line x1="449.70" y1="96.40" x2="449.70" y2="94.40" stroke="#333" stroke-width="0.8" />
<text x="447.3" y="107.0" font-size="9.8" text-anchor="middle" font-weight="bold" fill="#1c1c1c" >-3</text>
<line x1="480.97" y1="96.40" x2="480.97" y2="94.40" stroke="#333" stroke-width="0.8" />
<text x="478.6" y="107.0" font-size="9.8" text-anchor="middle" font-weight="bold" fill="#1c1c1c" >-2</text>
<line x1="512.24" y1="96.40" x2="512.24" y2="94.40" stroke="#333" stroke-width="0.8" />
<text x="509.8" y="107.0" font-size="9.8" text-anchor="middle" font-weight="bold" fill="#1c1c1c" >-1</text>
<line x1="543.51" y1="96.40" x2="543.51" y2="94.40" stroke="#333" stroke-width="0.8" />
<text x="542.8" y="107.0" font-size="9.8" text-anchor="middle" font-weight="bold" fill="#1c1c1c" >0</text>
<line x1="574.79" y1="96.40" x2="574.79" y2="94.40" stroke="#333" stroke-width="0.8" />
<text x="574.1" y="107.0" font-size="9.8" text-anchor="middle" font-weight="bold" fill="#1c1c1c" >1</text>
<line x1="606.06" y1="96.40" x2="606.06" y2="94.40" stroke="#333" stroke-width="0.8" />
<text x="605.4" y="107.0" font-size="9.8" text-anchor="middle" font-weight="bold" fill="#1c1c1c" >2</text>
<line x1="637.33" y1="96.40" x2="637.33" y2="94.40" stroke="#333" stroke-width="0.8" />
<text x="636.6" y="107.0" font-size="9.8" text-anchor="middle" font-weight="bold" fill="#1c1c1c" >3</text>
<line x1="668.60" y1="96.40" x2="668.60" y2="94.40" stroke="#333" stroke-width="0.8" />
<text x="667.9" y="107.0" font-size="9.8" text-anchor="middle" font-weight="bold" fill="#1c1c1c" >4</text>
<polyline points="449.46,66.87 451.09,69.91 452.51,72.95 453.52,57.74 454.53,42.53 455.75,46.58 456.76,51.65 457.78,58.14 458.79,56.72 459.81,58.14 461.23,58.14 462.24,37.45 463.26,36.03 464.27,37.05 465.28,47.60 466.30,59.77 467.31,69.91 468.33,79.65 469.34,73.97 470.35,71.94 471.37,69.91 472.38,65.85 473.40,55.71 474.41,49.62 475.43,58.75 476.44,59.77 477.45,69.91 478.06,78.02 479.08,84.11 480.09,79.04 481.51,79.04 482.53,74.98 483.54,71.94 484.55,67.88 485.57,63.82 486.58,69.91 487.60,51.65 488.20,63.82 489.22,55.71 490.03,16.16 491.25,25.28 492.26,39.48 493.07,51.65 493.88,71.94 494.70,88.16 495.71,80.05 496.72,63.82 497.74,59.77 498.75,35.43 499.36,17.17 500.17,41.51 500.78,53.68 501.39,35.43 501.80,45.57 502.40,67.88 503.22,29.34 503.82,17.17 504.43,15.14 504.84,45.57 505.24,83.09 505.85,61.80 506.87,59.77 507.88,61.80 508.89,55.71 509.91,57.74 510.92,61.80 511.94,71.94 512.95,82.08 513.97,88.16 514.98,89.18 517.01,88.16 519.04,86.14 521.06,84.11 523.09,86.14 525.12,90.19 527.15,91.21 530.19,92.22 533.24,94.25 536.28,95.87 546.64,96.20 574.79,96.20 606.06,96.20 621.69,96.20 626.38,95.54 629.82,94.40 632.64,92.40 633.89,88.96 635.14,87.25 637.02,86.90 638.27,82.10 639.83,64.94 641.08,44.92 642.21,32.91 643.27,42.06 644.05,67.80 644.71,91.42 645.77,88.39 646.49,85.99 648.27,89.54 650.46,91.25 652.96,90.68 656.09,87.25 657.97,84.50 659.22,87.25 661.09,92.97 663.91,92.40 666.41,90.97 668.60,89.99" fill="none" stroke="#3d6cb9" stroke-width="1.0" stroke-linejoin="round" />
<line x1="543.50" y1="11.10" x2="543.50" y2="96.40" stroke="#111" stroke-width="0.9" stroke-dasharray="3.2,2.4"/>
<text transform="translate(545.7,25.0) scale(0.8,1)" font-size="11.8" font-weight="bold" fill="#111">E<tspan font-size="7.8" dy="2.4">F</tspan></text>
<line x1="591.00" y1="16.00" x2="603.50" y2="16.00" stroke="#5a86cc" stroke-width="1.1" />
<text x="605.5" y="18.9" font-size="8.2" fill="#1c1c1c">Pristine FAPbBr<tspan font-size="5" dy="1.6">3</tspan></text>
<text transform="translate(422.1,55.7) rotate(-90)" font-size="9.6" font-weight="bold" text-anchor="middle" fill="#1c1c1c">TDOS (States/eV)</text>
<text x="562.1" y="118.0" font-size="9.5" font-weight="bold" text-anchor="middle" fill="#1c1c1c">Energy (eV)</text>
<rect x="450.2" y="125.4" width="219.09999999999997" height="86.19999999999999" fill="none" stroke="#333" stroke-width="1"/>
<line x1="450.20" y1="211.60" x2="452.20" y2="211.60" stroke="#333" stroke-width="0.8" />
<text x="447.8" y="215.0" font-size="9.7" text-anchor="end" font-weight="bold" fill="#1c1c1c" >0</text>
<line x1="450.20" y1="194.36" x2="452.20" y2="194.36" stroke="#333" stroke-width="0.8" />
<text x="447.8" y="197.8" font-size="9.7" text-anchor="end" font-weight="bold" fill="#1c1c1c" >30</text>
<line x1="450.20" y1="177.12" x2="452.20" y2="177.12" stroke="#333" stroke-width="0.8" />
<text x="447.8" y="180.5" font-size="9.7" text-anchor="end" font-weight="bold" fill="#1c1c1c" >60</text>
<line x1="450.20" y1="159.88" x2="452.20" y2="159.88" stroke="#333" stroke-width="0.8" />
<text x="447.8" y="163.3" font-size="9.7" text-anchor="end" font-weight="bold" fill="#1c1c1c" >90</text>
<line x1="450.20" y1="142.64" x2="452.20" y2="142.64" stroke="#333" stroke-width="0.8" />
<text x="447.8" y="146.0" font-size="9.7" text-anchor="end" font-weight="bold" fill="#1c1c1c" >120</text>
<line x1="450.20" y1="125.40" x2="452.20" y2="125.40" stroke="#333" stroke-width="0.8" />
<text x="447.8" y="128.8" font-size="9.7" text-anchor="end" font-weight="bold" fill="#1c1c1c" >150</text>
<line x1="450.20" y1="211.60" x2="450.20" y2="209.60" stroke="#333" stroke-width="0.8" />
<text x="447.8" y="222.2" font-size="9.8" text-anchor="middle" font-weight="bold" fill="#1c1c1c" >-5</text>
<line x1="481.50" y1="211.60" x2="481.50" y2="209.60" stroke="#333" stroke-width="0.8" />
<text x="479.1" y="222.2" font-size="9.8" text-anchor="middle" font-weight="bold" fill="#1c1c1c" >-4</text>
<line x1="512.80" y1="211.60" x2="512.80" y2="209.60" stroke="#333" stroke-width="0.8" />
<text x="510.4" y="222.2" font-size="9.8" text-anchor="middle" font-weight="bold" fill="#1c1c1c" >-3</text>
<line x1="544.10" y1="211.60" x2="544.10" y2="209.60" stroke="#333" stroke-width="0.8" />
<text x="541.7" y="222.2" font-size="9.8" text-anchor="middle" font-weight="bold" fill="#1c1c1c" >-2</text>
<line x1="575.40" y1="211.60" x2="575.40" y2="209.60" stroke="#333" stroke-width="0.8" />
<text x="573.0" y="222.2" font-size="9.8" text-anchor="middle" font-weight="bold" fill="#1c1c1c" >-1</text>
<line x1="606.70" y1="211.60" x2="606.70" y2="209.60" stroke="#333" stroke-width="0.8" />
<text x="606.0" y="222.2" font-size="9.8" text-anchor="middle" font-weight="bold" fill="#1c1c1c" >0</text>
<line x1="638.00" y1="211.60" x2="638.00" y2="209.60" stroke="#333" stroke-width="0.8" />
<text x="637.3" y="222.2" font-size="9.8" text-anchor="middle" font-weight="bold" fill="#1c1c1c" >1</text>
<line x1="669.30" y1="211.60" x2="669.30" y2="209.60" stroke="#333" stroke-width="0.8" />
<text x="668.6" y="222.2" font-size="9.8" text-anchor="middle" font-weight="bold" fill="#1c1c1c" >2</text>
<polyline points="450.07,170.71 451.09,179.84 452.10,174.77 453.11,168.68 454.13,160.57 455.14,166.65 456.16,172.74 457.17,164.62 458.18,162.60 459.20,172.74 460.21,163.61 461.23,168.68 462.24,164.62 463.26,171.72 464.27,163.61 465.28,161.58 466.30,168.68 467.31,167.67 468.33,154.48 469.34,151.44 470.35,141.30 471.37,146.37 472.38,156.51 473.40,164.62 474.41,173.75 475.43,147.38 476.44,211.28 477.05,180.85 477.66,141.30 478.47,170.71 479.08,174.77 479.89,130.14 480.50,150.43 481.51,174.77 482.53,178.82 483.54,188.97 484.55,184.91 485.57,178.82 486.58,168.68 487.60,172.74 488.61,186.94 489.62,182.88 490.64,174.77 491.65,182.88 492.67,193.02 493.68,186.94 494.70,184.91 495.71,189.98 496.72,189.98 497.74,188.97 498.75,201.14 499.77,198.09 500.78,197.08 501.80,200.12 502.81,200.12 503.82,204.18 504.84,205.19 507.88,205.19 510.92,205.19 512.95,206.21 514.98,208.24 517.01,209.25 520.05,210.67 523.09,211.28 526.14,211.50 520.00,211.39 561.67,211.39 593.61,210.56 599.17,209.17 603.33,210.56 606.11,211.39 611.67,210.56 615.83,208.61 622.78,206.39 625.56,204.44 626.94,198.89 628.33,182.22 629.72,173.89 631.11,175.28 632.50,185.00 633.89,176.67 634.72,173.33 636.11,182.22 637.50,198.89 638.89,201.67 640.28,198.89 641.39,203.06 642.50,200.28 643.61,205.83 645.00,208.61 646.39,205.83 650.56,205.83 654.72,204.44 658.89,200.83 661.67,201.67 664.44,203.89 667.22,203.89 669.17,201.67" fill="none" stroke="#3d6cb9" stroke-width="1.0" stroke-linejoin="round" />
<line x1="606.50" y1="125.90" x2="606.50" y2="211.60" stroke="#111" stroke-width="0.9" stroke-dasharray="3.2,2.4"/>
<text transform="translate(608.7,139.8) scale(0.8,1)" font-size="11.8" font-weight="bold" fill="#111">E<tspan font-size="7.8" dy="2.4">F</tspan></text>
<line x1="486.60" y1="131.40" x2="499.10" y2="131.40" stroke="#5a86cc" stroke-width="1.1" />
<text x="501.1" y="134.3" font-size="8.2" fill="#1c1c1c">Br-defective FAPbBr<tspan font-size="5" dy="1.6">3</tspan></text>
<text transform="translate(422.6,170.7) rotate(-90)" font-size="9.6" font-weight="bold" text-anchor="middle" fill="#1c1c1c">TDOS (States/eV)</text>
<text x="562.8" y="233.2" font-size="9.5" font-weight="bold" text-anchor="middle" fill="#1c1c1c">Energy (eV)</text>
<defs>
<linearGradient id="gfto" x1="0" y1="0.6" x2="1" y2="0.4"><stop offset="0" stop-color="#a3afe0"/><stop offset="1" stop-color="#d0d7f2"/></linearGradient>
<linearGradient id="gsno" x1="0" y1="0" x2="1" y2="0"><stop offset="0" stop-color="#a2a2a2"/><stop offset="0.3" stop-color="#c6c6c6"/><stop offset="1" stop-color="#e4e4e4"/></linearGradient>
<linearGradient id="gyel" x1="0" y1="1" x2="1" y2="0"><stop offset="0" stop-color="#f1eb86"/><stop offset="0.6" stop-color="#f5f1b6"/><stop offset="1" stop-color="#fbf9e2"/></linearGradient>
<linearGradient id="gyel2" x1="0" y1="1" x2="1" y2="0"><stop offset="0" stop-color="#f1eb86"/><stop offset="1" stop-color="#f8f5cc"/></linearGradient>
<linearGradient id="gwv" x1="0" y1="0" x2="0" y2="1"><stop offset="0" stop-color="#fff" stop-opacity="0.38"/><stop offset="0.55" stop-color="#fff" stop-opacity="0.08"/><stop offset="1" stop-color="#fff" stop-opacity="0"/></linearGradient>
<linearGradient id="gele" x1="0" y1="0" x2="1" y2="0"><stop offset="0" stop-color="#94b9df"/><stop offset="1" stop-color="#dfe9f5"/></linearGradient>
<linearGradient id="gbolt" gradientUnits="userSpaceOnUse" x1="479" y1="293" x2="509" y2="323"><stop offset="0" stop-color="#e2301c"/><stop offset="0.2" stop-color="#e8521e"/><stop offset="0.33" stop-color="#f09a2c"/><stop offset="0.45" stop-color="#f2dc3a"/><stop offset="0.57" stop-color="#2cae5e"/><stop offset="0.67" stop-color="#a6e0e2"/><stop offset="0.76" stop-color="#f0c4e2"/><stop offset="0.86" stop-color="#e060b4"/><stop offset="1" stop-color="#cc1486"/></linearGradient>
<linearGradient id="garr" x1="0" y1="0" x2="1" y2="0"><stop offset="0" stop-color="#f4b890"/><stop offset="0.5" stop-color="#ee8e5a"/><stop offset="1" stop-color="#f4b890"/></linearGradient>
<marker id="ab" viewBox="0 0 10 10" refX="9" refY="5" markerWidth="4" markerHeight="4" orient="auto-start-reverse"><path d="M0,0 L10,5 L0,10 z" fill="#3a70c0"/></marker>
<marker id="ak" viewBox="0 0 10 10" refX="9" refY="5" markerWidth="4.6" markerHeight="4.6" orient="auto-start-reverse"><path d="M0,0.5 L10,5 L0,9.5 z" fill="#111"/></marker>
<marker id="ab2" viewBox="0 0 10 10" refX="6" refY="5" markerWidth="3.2" markerHeight="3.2" orient="auto"><path d="M0,0 L10,5 L0,10 z" fill="#4a8ad0"/></marker>
</defs>
<text x="0.3" y="265.6" font-size="16" text-anchor="start" font-weight="bold" fill="#1c1c1c" >c</text>
<text x="13.5" y="261.0" font-size="7.4" fill="#1c1c1c">E<tspan font-size="4.8" dy="1.5">NHE</tspan></text>
<text x="22.1" y="269.4" font-size="7.4" text-anchor="middle" font-weight="normal" fill="#1c1c1c" >(V)</text>
<text x="46.5" y="261.0" font-size="7.5" text-anchor="middle" font-weight="normal" fill="#1c1c1c" >Vacuum</text>
<text x="49.6" y="269.4" font-size="7.4" text-anchor="middle" font-weight="normal" fill="#1c1c1c" >(eV)</text>
<line x1="21.80" y1="274.00" x2="21.80" y2="468.00" stroke="#e8823a" stroke-width="2" />
<path d="M19.2,276 L21.8,270.6 L24.4,276 z" fill="#e8823a"/>
<line x1="48.60" y1="274.00" x2="48.60" y2="468.00" stroke="#2a78c4" stroke-width="1.9" />
<path d="M46.0,276 L48.6,270.6 L51.2,276 z" fill="#2a78c4"/>
<line x1="22.80" y1="287.60" x2="26.70" y2="287.60" stroke="#e8823a" stroke-width="1.1" />
<line x1="49.50" y1="287.60" x2="53.90" y2="287.60" stroke="#2a78c4" stroke-width="1.1" />
<text x="20.2" y="290.1" font-size="7.3" text-anchor="end" font-weight="normal" fill="#1c1c1c" >-1.5</text>
<text x="46.8" y="290.1" font-size="7.3" text-anchor="end" font-weight="normal" fill="#1c1c1c" >-3.0</text>
<line x1="22.80" y1="306.53" x2="26.70" y2="306.53" stroke="#e8823a" stroke-width="1.1" />
<line x1="49.50" y1="306.53" x2="53.90" y2="306.53" stroke="#2a78c4" stroke-width="1.1" />
<text x="20.2" y="309.0" font-size="7.3" text-anchor="end" font-weight="normal" fill="#1c1c1c" >-1.0</text>
<text x="46.8" y="309.0" font-size="7.3" text-anchor="end" font-weight="normal" fill="#1c1c1c" >-3.5</text>
<line x1="22.80" y1="325.46" x2="26.70" y2="325.46" stroke="#e8823a" stroke-width="1.1" />
<line x1="49.50" y1="325.46" x2="53.90" y2="325.46" stroke="#2a78c4" stroke-width="1.1" />
<text x="20.2" y="328.0" font-size="7.3" text-anchor="end" font-weight="normal" fill="#1c1c1c" >-0.5</text>
<text x="46.8" y="328.0" font-size="7.3" text-anchor="end" font-weight="normal" fill="#1c1c1c" >-4.0</text>
<line x1="22.80" y1="344.39" x2="26.70" y2="344.39" stroke="#e8823a" stroke-width="1.1" />
<line x1="49.50" y1="344.39" x2="53.90" y2="344.39" stroke="#2a78c4" stroke-width="1.1" />
<text x="20.2" y="346.9" font-size="7.3" text-anchor="end" font-weight="normal" fill="#1c1c1c" >0.0</text>
<text x="46.8" y="346.9" font-size="7.3" text-anchor="end" font-weight="normal" fill="#1c1c1c" >-4.5</text>
<line x1="22.80" y1="363.32" x2="26.70" y2="363.32" stroke="#e8823a" stroke-width="1.1" />
<line x1="49.50" y1="363.32" x2="53.90" y2="363.32" stroke="#2a78c4" stroke-width="1.1" />
<text x="20.2" y="365.8" font-size="7.3" text-anchor="end" font-weight="normal" fill="#1c1c1c" >0.5</text>
<text x="46.8" y="365.8" font-size="7.3" text-anchor="end" font-weight="normal" fill="#1c1c1c" >-5.0</text>
<line x1="22.80" y1="382.25" x2="26.70" y2="382.25" stroke="#e8823a" stroke-width="1.1" />
<line x1="49.50" y1="382.25" x2="53.90" y2="382.25" stroke="#2a78c4" stroke-width="1.1" />
<text x="20.2" y="384.8" font-size="7.3" text-anchor="end" font-weight="normal" fill="#1c1c1c" >1.0</text>
<text x="46.8" y="384.8" font-size="7.3" text-anchor="end" font-weight="normal" fill="#1c1c1c" >-5.5</text>
<line x1="22.80" y1="401.18" x2="26.70" y2="401.18" stroke="#e8823a" stroke-width="1.1" />
<line x1="49.50" y1="401.18" x2="53.90" y2="401.18" stroke="#2a78c4" stroke-width="1.1" />
<text x="20.2" y="403.7" font-size="7.3" text-anchor="end" font-weight="normal" fill="#1c1c1c" >1.5</text>
<text x="46.8" y="403.7" font-size="7.3" text-anchor="end" font-weight="normal" fill="#1c1c1c" >-6.0</text>
<line x1="22.80" y1="420.11" x2="26.70" y2="420.11" stroke="#e8823a" stroke-width="1.1" />
<line x1="49.50" y1="420.11" x2="53.90" y2="420.11" stroke="#2a78c4" stroke-width="1.1" />
<text x="20.2" y="422.6" font-size="7.3" text-anchor="end" font-weight="normal" fill="#1c1c1c" >2.0</text>
<text x="46.8" y="422.6" font-size="7.3" text-anchor="end" font-weight="normal" fill="#1c1c1c" >-6.5</text>
<line x1="22.80" y1="439.04" x2="26.70" y2="439.04" stroke="#e8823a" stroke-width="1.1" />
<line x1="49.50" y1="439.04" x2="53.90" y2="439.04" stroke="#2a78c4" stroke-width="1.1" />
<text x="20.2" y="441.5" font-size="7.3" text-anchor="end" font-weight="normal" fill="#1c1c1c" >2.5</text>
<text x="46.8" y="441.5" font-size="7.3" text-anchor="end" font-weight="normal" fill="#1c1c1c" >-7.0</text>
<line x1="22.80" y1="457.97" x2="26.70" y2="457.97" stroke="#e8823a" stroke-width="1.1" />
<line x1="49.50" y1="457.97" x2="53.90" y2="457.97" stroke="#2a78c4" stroke-width="1.1" />
<text x="20.2" y="460.5" font-size="7.3" text-anchor="end" font-weight="normal" fill="#1c1c1c" >3.0</text>
<text x="46.8" y="460.5" font-size="7.3" text-anchor="end" font-weight="normal" fill="#1c1c1c" >-7.5</text>
<rect x="64.0" y="271.0" width="19.5" height="172.8" fill="url(#gfto)"/>
<rect x="83.5" y="271.0" width="14.299999999999997" height="172.8" fill="url(#gsno)"/>
<rect x="64.0" y="271.0" width="33.8" height="172.8" fill="url(#gwv)"/>
<rect x="97.8" y="271.0" width="65.2" height="172.8" fill="url(#gyel)"/>
<rect x="173.3" y="271.0" width="19.399999999999977" height="172.8" fill="#706b6b"/>
<rect x="203.8" y="271.0" width="32.19999999999999" height="172.8" fill="url(#gele)"/>
<text transform="translate(79.0,442.4) rotate(-90) scale(0.93,1)" font-size="9.2" fill="#1c1c1c">FTO Glass</text>
<text transform="translate(92.8,442.2) rotate(-90) scale(0.93,1)" font-size="9.2" fill="#1c1c1c">SnO<tspan font-size="6" dy="1.2">2</tspan></text>
<text x="183.6" y="452.3" font-size="7.0" text-anchor="middle" font-weight="normal" fill="#1c1c1c" >Carbon</text>
<rect x="264.6" y="271.0" width="18.399999999999977" height="172.8" fill="url(#gfto)"/>
<rect x="283.0" y="271.0" width="14.600000000000023" height="172.8" fill="url(#gsno)"/>
<rect x="264.6" y="271.0" width="33.0" height="172.8" fill="url(#gwv)"/>
<rect x="297.6" y="271.0" width="65.79999999999995" height="172.8" fill="url(#gyel2)"/>
<rect x="363.4" y="271.0" width="35.200000000000045" height="172.8" fill="#fbf8dc"/>
<line x1="363.40" y1="271.00" x2="363.40" y2="443.80" stroke="#b8c8d8" stroke-width="0.8" stroke-dasharray="2,2"/>
<rect x="398.6" y="271.0" width="18.599999999999966" height="172.8" fill="#706b6b"/>
<rect x="417.2" y="271.0" width="32.30000000000001" height="172.8" fill="url(#gele)"/>
<text transform="translate(279.1,442.4) rotate(-90) scale(0.93,1)" font-size="9.2" fill="#1c1c1c">FTO Glass</text>
<text transform="translate(292.4,442.2) rotate(-90) scale(0.93,1)" font-size="9.2" fill="#1c1c1c">SnO<tspan font-size="6" dy="1.2">2</tspan></text>
<text x="408.5" y="452.3" font-size="7.0" text-anchor="middle" font-weight="normal" fill="#1c1c1c" >Carbon</text>
<rect x="477.8" y="271.0" width="18.899999999999977" height="172.8" fill="url(#gfto)"/>
<rect x="496.7" y="271.0" width="14.699999999999989" height="172.8" fill="url(#gsno)"/>
<rect x="477.8" y="271.0" width="33.599999999999966" height="172.8" fill="url(#gwv)"/>
<rect x="511.4" y="271.0" width="65.20000000000005" height="172.8" fill="url(#gyel2)"/>
<rect x="576.6" y="271.0" width="35.39999999999998" height="172.8" fill="#fbf8dc"/>
<line x1="576.60" y1="271.00" x2="576.60" y2="443.80" stroke="#b8c8d8" stroke-width="0.8" stroke-dasharray="2,2"/>
<rect x="612.0" y="271.0" width="19.0" height="172.8" fill="#706b6b"/>
<rect x="631.0" y="271.0" width="32.0" height="172.8" fill="url(#gele)"/>
<text transform="translate(492.6,442.4) rotate(-90) scale(0.93,1)" font-size="9.2" fill="#1c1c1c">FTO Glass</text>
<text transform="translate(506.1,442.2) rotate(-90) scale(0.93,1)" font-size="9.2" fill="#1c1c1c">SnO<tspan font-size="6" dy="1.2">2</tspan></text>
<text x="622.1" y="452.3" font-size="7.0" text-anchor="middle" font-weight="normal" fill="#1c1c1c" >Carbon</text>
<line x1="163.00" y1="305.30" x2="512.00" y2="305.30" stroke="#000" stroke-width="0.8" stroke-dasharray="2,2" stroke-opacity="0.22"/>
<line x1="163.00" y1="386.80" x2="512.00" y2="386.80" stroke="#000" stroke-width="0.8" stroke-dasharray="2,2" stroke-opacity="0.22"/>
<text x="118.9" y="269.7" font-size="7.4" fill="#1c1c1c">FAPbBr<tspan font-size="4.8" dy="1.6">3</tspan></text>
<text x="208.6" y="260.5" font-size="7.6" text-anchor="start" font-weight="normal" fill="#1c1c1c" >Helmholtz</text>
<text x="208.6" y="266.8" font-size="7.6" text-anchor="start" font-weight="normal" fill="#1c1c1c" >Layer</text>
<line x1="204.50" y1="269.30" x2="235.10" y2="269.30" stroke="#111" stroke-width="0.8" marker-start="url(#ak)" marker-end="url(#ak)"/>
<text x="207.8" y="280.0" font-size="6.3" text-anchor="start" font-weight="normal" fill="#1c1c1c" >pH 13.6</text>
<line x1="97.80" y1="305.30" x2="163.00" y2="305.30" stroke="#e8322a" stroke-width="1.4" />
<line x1="97.80" y1="386.80" x2="163.00" y2="386.80" stroke="#e8322a" stroke-width="1.4" />
<line x1="97.80" y1="317.40" x2="163.00" y2="317.40" stroke="#5b8cc6" stroke-width="0.9" stroke-dasharray="4.9,3.3"/>
<text x="99.3" y="304.0" font-size="8.6" text-anchor="start" font-weight="normal" fill="#1c1c1c" >CB -3.4</text>
<text x="99.3" y="385.3" font-size="8.6" text-anchor="start" font-weight="normal" fill="#1c1c1c" >VB -5.6</text>
<text x="100.2" y="327.6" font-size="8.6" fill="#1c1c1c"><tspan font-style="italic">E</tspan><tspan font-size="5.6" font-style="italic" dy="1.6">F</tspan><tspan dy="-1.6" dx="4.4">-3.7</tspan></text>
<line x1="131.00" y1="323.00" x2="131.00" y2="383.00" stroke="#8fa4bd" stroke-width="1.1" />
<path d="M129,325 L131,320.8 L133,325 z" fill="#3a70c0"/>
<path d="M129,381 L131,385.2 L133,381 z" fill="#3a70c0"/>
<text x="133.9" y="356.3" font-size="8.6" text-anchor="start" font-weight="normal" fill="#1c1c1c" >1.9 eV</text>
<line x1="173.30" y1="360.50" x2="192.70" y2="360.50" stroke="#d8782e" stroke-width="1.3" />
<text x="183.2" y="358.2" font-size="7.6" text-anchor="middle" font-weight="normal" fill="#f4f4f4" >-4.81</text>
<line x1="203.80" y1="361.00" x2="236.00" y2="361.00" stroke="#3a7cc6" stroke-width="1.5" />
<text x="204.0" y="358.2" font-size="7.6" text-anchor="start" font-weight="normal" fill="#1c1c1c" >OER -4.9</text>
<text x="143.2" y="465.6" font-size="11.5" text-anchor="middle" font-weight="normal" fill="#1c1c1c" >Dark, before contact</text>
<text x="318.7" y="269.7" font-size="7.4" fill="#1c1c1c">FAPbBr<tspan font-size="4.8" dy="1.6">3</tspan></text>
<text x="359.6" y="260.5" font-size="7.6" text-anchor="start" font-weight="normal" fill="#1c1c1c" >Depletion</text>
<text x="372.9" y="266.8" font-size="7.6" text-anchor="start" font-weight="normal" fill="#1c1c1c" >Layer</text>
<line x1="364.10" y1="269.30" x2="398.10" y2="269.30" stroke="#111" stroke-width="0.8" marker-start="url(#ak)" marker-end="url(#ak)"/>
<text x="422.0" y="260.5" font-size="7.6" text-anchor="start" font-weight="normal" fill="#1c1c1c" >Helmholtz</text>
<text x="422.0" y="266.8" font-size="7.6" text-anchor="start" font-weight="normal" fill="#1c1c1c" >Layer</text>
<line x1="418.50" y1="269.30" x2="447.90" y2="269.30" stroke="#111" stroke-width="0.8" marker-start="url(#ak)" marker-end="url(#ak)"/>
<text x="422.0" y="280.0" font-size="6.3" text-anchor="start" font-weight="normal" fill="#1c1c1c" >pH 13.6</text>
<path d="M297.6,350.3 L363,350.3 C380,350.3 397.5,338 398.2,305.5" fill="none" stroke="#e8322a" stroke-width="1.4"/>
<path d="M297.6,432.2 L363,432.2 C380,432.2 397.5,420 398.2,387.5" fill="none" stroke="#e8322a" stroke-width="1.4"/>
<line x1="297.60" y1="362.40" x2="398.50" y2="362.40" stroke="#5b8cc6" stroke-width="0.9" stroke-dasharray="4.9,3.3"/>
<line x1="398.60" y1="362.40" x2="417.20" y2="362.40" stroke="#d8782e" stroke-width="1.3" />
<line x1="417.20" y1="362.40" x2="449.50" y2="362.40" stroke="#3a7cc6" stroke-width="1.5" />
<text x="434.6" y="359.8" font-size="7.8" text-anchor="middle" font-weight="normal" fill="#1c1c1c" >OER</text>
<text x="298.8" y="349.0" font-size="8.6" text-anchor="start" font-weight="normal" fill="#1c1c1c" >CB</text>
<text x="298.8" y="430.0" font-size="8.6" text-anchor="start" font-weight="normal" fill="#1c1c1c" >VB</text>
<text x="299.6" y="371.2" font-size="8.6" font-style="italic" fill="#1c1c1c">E<tspan font-size="5.6" dy="1.6">F</tspan></text>
<circle cx="320.6" cy="343.0" r="3.1" fill="none" stroke="#1a1a1a" stroke-width="1.0"/>
<line x1="319.60" y1="343.00" x2="321.60" y2="343.00" stroke="#1a1a1a" stroke-width="1.2" />
<circle cx="346.8" cy="343.0" r="3.1" fill="none" stroke="#1a1a1a" stroke-width="1.0"/>
<line x1="345.80" y1="343.00" x2="347.80" y2="343.00" stroke="#1a1a1a" stroke-width="1.2" />
<circle cx="384.7" cy="330.3" r="3.1" fill="none" stroke="#1a1a1a" stroke-width="1.0"/>
<line x1="383.70" y1="330.30" x2="385.70" y2="330.30" stroke="#1a1a1a" stroke-width="1.2" />
<circle cx="316.0" cy="438.0" r="3.1" fill="none" stroke="#1a1a1a" stroke-width="1.0"/>
<line x1="313.40" y1="438.00" x2="318.60" y2="438.00" stroke="#1a1a1a" stroke-width="0.9" />
<line x1="316.00" y1="435.40" x2="316.00" y2="440.60" stroke="#1a1a1a" stroke-width="0.9" />
<circle cx="347.0" cy="438.0" r="3.1" fill="none" stroke="#1a1a1a" stroke-width="1.0"/>
<line x1="344.40" y1="438.00" x2="349.60" y2="438.00" stroke="#1a1a1a" stroke-width="0.9" />
<line x1="347.00" y1="435.40" x2="347.00" y2="440.60" stroke="#1a1a1a" stroke-width="0.9" />
<circle cx="385.3" cy="430.8" r="3.1" fill="none" stroke="#1a1a1a" stroke-width="1.0"/>
<line x1="382.70" y1="430.80" x2="387.90" y2="430.80" stroke="#1a1a1a" stroke-width="0.9" />
<line x1="385.30" y1="428.20" x2="385.30" y2="433.40" stroke="#1a1a1a" stroke-width="0.9" />
<path d="M379.6,335 Q372,341 365,343.4" fill="none" stroke="#4a8ad0" stroke-width="1.9" marker-end="url(#ab2)"/>
<path d="M364.2,439.4 Q372,438.5 379.2,433" fill="none" stroke="#4a8ad0" stroke-width="1.9" marker-end="url(#ab2)"/>
<path d="M417.0,368.2 L427.5,368.3 Q432.6,369.3 435.2,372 Q432.6,374.7 427.5,375.7 L417.0,375.8 z" fill="#525a6a"/>
<text x="418.3" y="374.5" font-size="6.1" font-weight="bold" fill="#f2f2f6" letter-spacing="-0.35">WOC</text>
<text x="348.0" y="466.0" font-size="11.5" text-anchor="middle" font-weight="normal" fill="#1c1c1c" >Dark, after contact</text>
<text x="532.1" y="269.7" font-size="7.4" fill="#1c1c1c">FAPbBr<tspan font-size="4.8" dy="1.6">3</tspan></text>
<text x="573.7" y="260.5" font-size="7.6" text-anchor="start" font-weight="normal" fill="#1c1c1c" >Depletion</text>
<text x="587.0" y="266.8" font-size="7.6" text-anchor="start" font-weight="normal" fill="#1c1c1c" >Layer</text>
<line x1="577.80" y1="269.30" x2="611.80" y2="269.30" stroke="#111" stroke-width="0.8" marker-start="url(#ak)" marker-end="url(#ak)"/>
<text x="636.1" y="260.5" font-size="7.6" text-anchor="start" font-weight="normal" fill="#1c1c1c" >Helmholtz</text>
<text x="636.1" y="266.8" font-size="7.6" text-anchor="start" font-weight="normal" fill="#1c1c1c" >Layer</text>
<line x1="632.20" y1="269.30" x2="662.00" y2="269.30" stroke="#111" stroke-width="0.8" marker-start="url(#ak)" marker-end="url(#ak)"/>
<text x="638.0" y="280.0" font-size="6.3" text-anchor="start" font-weight="normal" fill="#1c1c1c" >pH 13.6</text>
<line x1="511.40" y1="305.30" x2="612.00" y2="305.30" stroke="#e8322a" stroke-width="1.4" />
<line x1="511.40" y1="386.80" x2="612.00" y2="386.80" stroke="#e8322a" stroke-width="1.4" />
<path d="M545.7,312.0 L554.8,327.2 L548.7,327.2 L545.6,380.8 L542.6,327.2 L536.8,327.2 z" fill="#ef9263"/>
<line x1="511.40" y1="317.70" x2="612.00" y2="317.70" stroke="#5b8cc6" stroke-width="0.9" stroke-dasharray="4.9,3.3"/>
<text x="512.8" y="302.2" font-size="8.6" text-anchor="start" font-weight="normal" fill="#1c1c1c" >CB</text>
<text x="512.8" y="383.6" font-size="8.6" text-anchor="start" font-weight="normal" fill="#1c1c1c" >VB</text>
<circle cx="530.0" cy="298.9" r="3.1" fill="none" stroke="#1a1a1a" stroke-width="1.0"/>
<line x1="529.00" y1="298.90" x2="531.00" y2="298.90" stroke="#1a1a1a" stroke-width="1.2" />
<circle cx="558.6" cy="298.9" r="3.1" fill="none" stroke="#1a1a1a" stroke-width="1.0"/>
<line x1="557.60" y1="298.90" x2="559.60" y2="298.90" stroke="#1a1a1a" stroke-width="1.2" />
<circle cx="594.6" cy="298.9" r="3.1" fill="none" stroke="#1a1a1a" stroke-width="1.0"/>
<line x1="593.60" y1="298.90" x2="595.60" y2="298.90" stroke="#1a1a1a" stroke-width="1.2" />
<circle cx="530.0" cy="393.4" r="3.1" fill="none" stroke="#1a1a1a" stroke-width="1.0"/>
<line x1="527.40" y1="393.40" x2="532.60" y2="393.40" stroke="#1a1a1a" stroke-width="0.9" />
<line x1="530.00" y1="390.80" x2="530.00" y2="396.00" stroke="#1a1a1a" stroke-width="0.9" />
<circle cx="558.6" cy="393.4" r="3.1" fill="none" stroke="#1a1a1a" stroke-width="1.0"/>
<line x1="556.00" y1="393.40" x2="561.20" y2="393.40" stroke="#1a1a1a" stroke-width="0.9" />
<line x1="558.60" y1="390.80" x2="558.60" y2="396.00" stroke="#1a1a1a" stroke-width="0.9" />
<circle cx="594.6" cy="393.4" r="3.1" fill="none" stroke="#1a1a1a" stroke-width="1.0"/>
<line x1="592.00" y1="393.40" x2="597.20" y2="393.40" stroke="#1a1a1a" stroke-width="0.9" />
<line x1="594.60" y1="390.80" x2="594.60" y2="396.00" stroke="#1a1a1a" stroke-width="0.9" />
<path d="M475,298.5 L483,288 L491.8,298.8 L490.4,300.8 L499.5,309.2 L497.2,312.4 L511,326.6 L493.4,317.8 L495.6,315.0 L484.6,308.6 L487.0,305.6 z" fill="url(#gbolt)"/>
<path d="M576.8,318 C579,336 584,360 590,370 C594,377 600,378 604,374 C607,371 610,368 612,365.5" fill="none" stroke="#4a7cc4" stroke-width="0.9" stroke-dasharray="2.2,1.4,0.6,1.4"/>
<line x1="609.20" y1="321.00" x2="609.20" y2="361.00" stroke="#3a70c0" stroke-width="1.0" />
<path d="M607.4,322.6 L609.2,318.6 L611.0,322.6 z" fill="#3a70c0"/>
<path d="M607.4,359.6 L609.2,363.6 L611.0,359.6 z" fill="#3a70c0"/>
<text x="585.8" y="344.8" font-size="8.6" text-anchor="start" font-weight="normal" fill="#1c1c1c" >QFLS</text>
<text x="593.4" y="315.2" font-size="8.4" fill="#1c1c1c"><tspan font-size="5.4" font-style="italic" dy="1.4">n</tspan><tspan font-style="italic" dy="-1.4">E</tspan><tspan font-size="6.8" font-style="italic" dy="0.9">F</tspan></text>
<text x="593.0" y="368.8" font-size="8.4" fill="#1c1c1c"><tspan font-size="5.4" font-style="italic" dy="1.2">p</tspan><tspan font-style="italic" dy="-1.2">E</tspan><tspan font-size="6.8" font-style="italic" dy="0.9">F</tspan></text>
<line x1="612.00" y1="362.50" x2="631.00" y2="362.50" stroke="#d8782e" stroke-width="1.3" />
<line x1="631.00" y1="362.50" x2="663.00" y2="362.50" stroke="#3a7cc6" stroke-width="1.5" />
<text x="648.2" y="360.8" font-size="7.6" text-anchor="middle" font-weight="normal" fill="#1c1c1c" >OER</text>
<path d="M631.0,368.1 L641.5,368.2 Q646.6,369.2 649.2,371.9 Q646.6,374.6 641.5,375.6 L631.0,375.7 z" fill="#525a6a"/>
<text x="632.3" y="374.4" font-size="6.1" font-weight="bold" fill="#f2f2f6" letter-spacing="-0.35">WOC</text>
<path d="M617,390.7 Q628,390 636.2,381" fill="none" stroke="#4a8ad0" stroke-width="1.9" marker-end="url(#ab2)"/>
<path d="M650.3,373.8 Q656,372 660.8,365.8" fill="none" stroke="#4a8ad0" stroke-width="1.9" marker-end="url(#ab2)"/>
<path d="M667.2,366.4 Q662.5,361 666.5,354.2" fill="none" stroke="#111" stroke-width="0.8" marker-end="url(#ak)"/>
<text x="670.6" y="352.9" font-size="8" fill="#1c1c1c">O<tspan font-size="5.2" dy="1.6">2</tspan></text>
<text x="671.2" y="371.5" font-size="8" fill="#1c1c1c">H<tspan font-size="5.2" dy="1.6">2</tspan><tspan dy="-1.6">O</tspan></text>
<text x="477.4" y="466.0" font-size="11.35" text-anchor="start" font-weight="normal" fill="#1c1c1c" >Illumination, flatband condition</text>
</svg>
</body></html>
